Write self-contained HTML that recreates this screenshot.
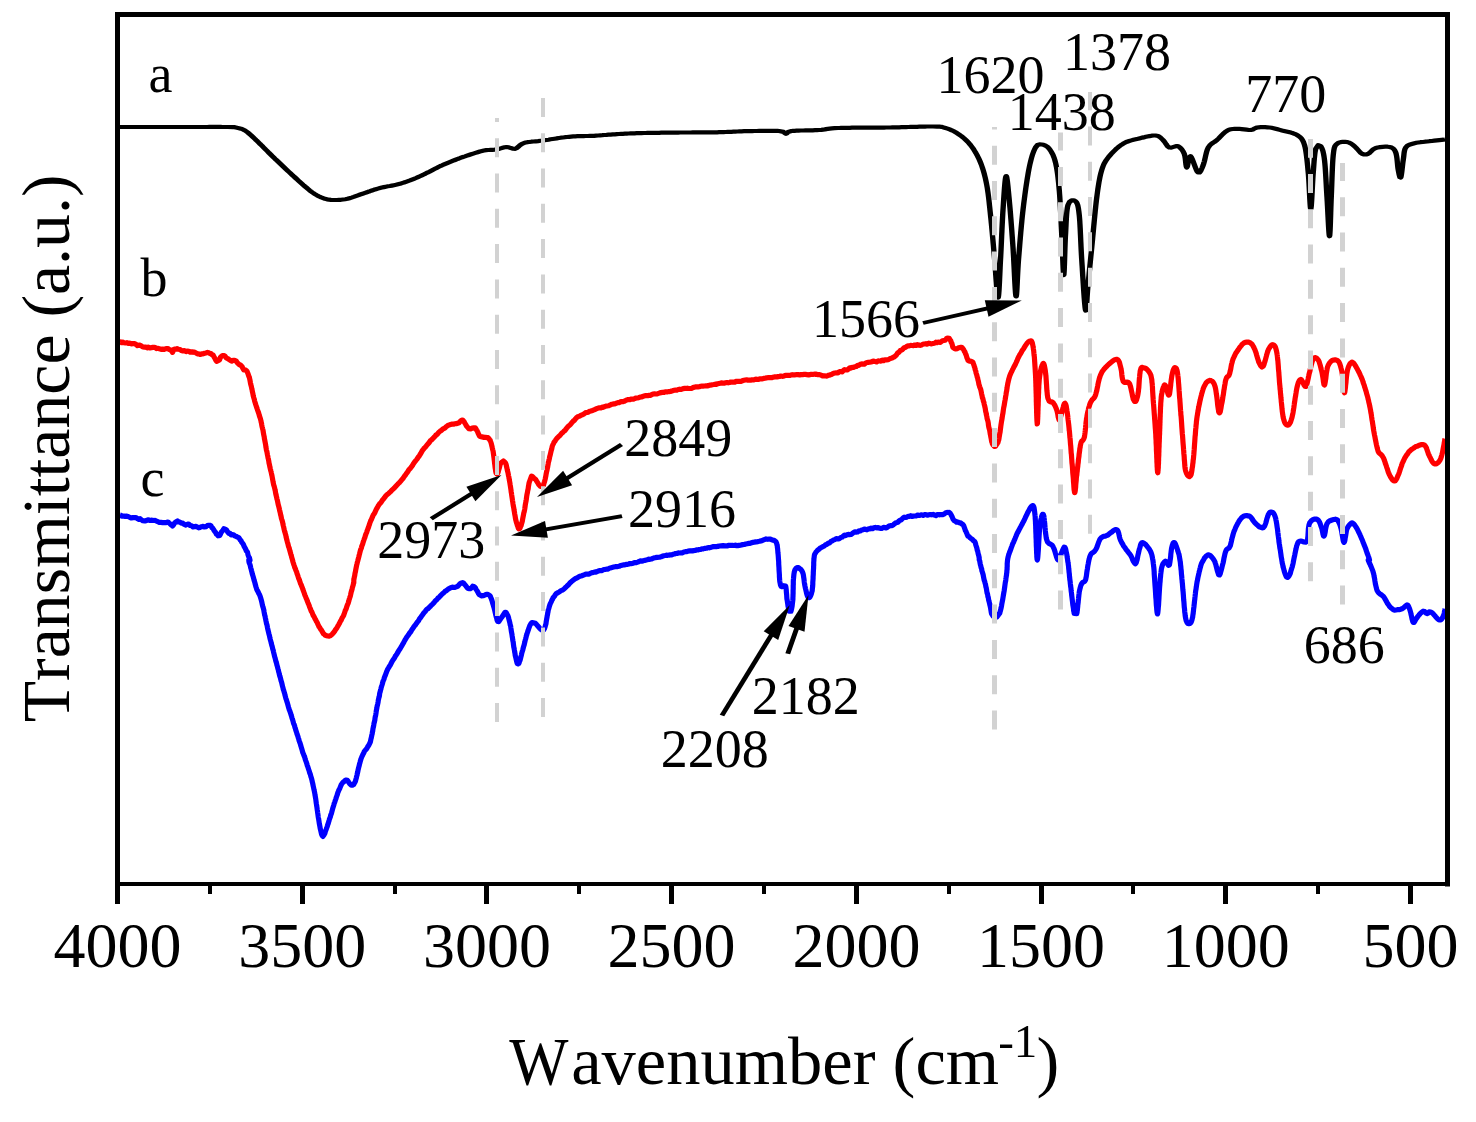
<!DOCTYPE html>
<html lang="en"><head><meta charset="utf-8"><title>FTIR spectra</title>
<style>html,body{margin:0;padding:0;background:#fff}body{width:1476px;height:1122px;overflow:hidden}svg{display:block}.nk{font-kerning:none;font-feature-settings:"kern" 0,"liga" 0;font-variant-ligatures:none}</style>
</head><body>
<svg width="1476" height="1122" viewBox="0 0 1476 1122">
<rect width="1476" height="1122" fill="#fff"/>
<g fill="none" stroke-linejoin="round" stroke-linecap="butt" stroke-width="5.2">
<g transform="scale(1.28,1)"><polyline stroke="#000" stroke-width="4.2" points="93.75,127.0 94.59,127.0 95.53,127.0 96.58,127.0 97.73,127.0 98.96,127.0 100.28,127.0 101.67,127.0 103.13,127.0 104.66,127.0 106.25,127.0 107.89,127.0 109.58,127.0 111.30,127.0 113.06,127.0 114.84,127.0 116.65,127.0 118.47,127.0 120.30,127.0 122.13,127.0 123.96,127.0 125.77,127.0 127.57,127.0 129.35,127.0 131.10,127.0 132.81,127.0 134.48,127.0 136.11,127.0 137.68,127.0 139.18,127.0 140.62,127.0 142.39,127.0 144.18,127.0 145.97,127.0 147.77,127.0 149.57,127.0 151.37,127.0 153.17,127.0 154.95,127.0 156.71,127.0 158.46,127.0 160.18,127.0 161.87,127.0 163.52,126.9 165.13,126.9 166.71,126.9 168.23,126.9 169.70,126.9 171.11,126.9 172.46,126.9 173.75,127.0 174.96,127.0 176.10,127.0 177.15,127.0 178.12,127.0 181.88,127.1 183.45,127.2 184.11,127.4 185.16,127.8 186.74,128.2 188.23,128.7 189.75,129.4 191.41,130.5 192.53,131.5 193.61,132.5 194.73,133.7 195.98,135.1 197.45,136.9 199.22,139.0 200.09,140.1 201.04,141.2 202.05,142.5 203.11,143.9 204.22,145.3 205.37,146.7 206.54,148.2 207.74,149.8 208.94,151.3 210.15,152.9 211.35,154.4 212.54,155.9 213.71,157.3 214.84,158.8 216.05,160.2 217.27,161.7 218.49,163.2 219.72,164.7 220.94,166.2 222.17,167.7 223.39,169.2 224.60,170.6 225.81,172.0 227.00,173.4 228.17,174.8 229.33,176.2 230.47,177.5 231.80,179.0 233.13,180.6 234.44,182.1 235.75,183.6 237.04,185.1 238.30,186.5 239.54,187.8 240.75,189.1 241.92,190.4 243.05,191.5 244.14,192.5 246.02,194.1 247.76,195.4 249.39,196.5 250.94,197.4 252.44,198.1 253.91,198.8 255.56,199.4 257.08,199.7 258.55,199.9 260.06,200.0 261.72,200.0 263.21,200.0 264.76,199.9 266.36,199.8 268.01,199.5 269.72,199.2 271.48,198.8 273.04,198.2 274.63,197.6 276.27,196.9 277.94,196.1 279.66,195.3 281.41,194.5 283.20,193.8 284.63,193.1 286.07,192.5 287.54,191.8 289.04,191.2 290.56,190.5 292.10,189.8 293.67,189.2 295.26,188.6 296.88,188.0 298.36,187.5 299.88,187.1 301.42,186.7 302.98,186.3 304.57,186.0 306.16,185.6 307.75,185.2 309.34,184.8 310.93,184.3 312.50,183.8 314.06,183.1 315.63,182.5 317.19,181.8 318.75,181.1 320.31,180.4 321.88,179.6 323.44,178.8 325.00,178.0 326.56,177.1 328.12,176.2 329.56,175.4 331.02,174.5 332.49,173.6 333.97,172.6 335.45,171.7 336.91,170.7 338.36,169.7 339.77,168.8 341.15,167.9 342.48,167.0 343.75,166.2 345.41,165.3 346.97,164.4 348.46,163.6 349.90,162.8 351.30,162.1 352.69,161.4 354.07,160.7 355.47,160.0 357.07,159.2 358.63,158.5 360.17,157.7 361.71,157.0 363.25,156.4 364.81,155.7 366.41,155.0 368.06,154.3 369.75,153.6 371.48,152.9 373.20,152.2 374.90,151.5 376.55,151.0 378.12,150.5 379.89,150.1 381.60,150.0 383.25,149.9 384.85,149.8 386.40,149.7 387.89,149.5 389.59,149.0 391.20,148.4 392.74,147.8 394.23,147.3 395.70,147.0 397.48,147.3 399.18,148.1 400.85,148.7 402.54,148.8 403.78,148.0 404.89,146.8 406.06,145.4 407.50,144.1 409.38,143.0 410.64,142.6 412.03,142.2 413.53,142.0 415.12,141.7 416.81,141.5 418.57,141.3 420.40,141.1 422.29,140.8 424.22,140.5 425.60,140.2 427.05,140.0 428.55,139.7 430.09,139.3 431.67,139.0 433.27,138.7 434.89,138.4 436.53,138.0 438.16,137.7 439.79,137.5 441.39,137.2 442.98,137.0 444.53,136.8 446.19,136.6 447.83,136.4 449.47,136.3 451.10,136.2 452.72,136.2 454.35,136.1 455.96,136.1 457.58,136.0 459.20,136.0 460.82,135.9 462.44,135.9 464.06,135.8 465.69,135.6 467.32,135.5 468.95,135.3 470.57,135.2 472.20,135.0 473.83,134.9 475.46,134.7 477.08,134.6 478.71,134.4 480.34,134.3 481.97,134.1 483.59,134.0 485.18,133.9 486.71,133.8 488.20,133.7 489.67,133.6 491.14,133.5 492.63,133.4 494.16,133.3 495.75,133.3 497.42,133.2 499.19,133.1 501.09,133.1 503.12,133.0 504.43,133.0 505.79,132.9 507.21,132.9 508.69,132.9 510.21,132.8 511.76,132.8 513.35,132.8 514.97,132.8 516.61,132.7 518.26,132.7 519.93,132.7 521.59,132.7 523.26,132.6 524.92,132.6 526.56,132.6 528.19,132.6 529.79,132.6 531.36,132.5 532.89,132.5 534.38,132.5 536.10,132.5 537.82,132.5 539.53,132.5 541.24,132.4 542.94,132.4 544.63,132.4 546.30,132.4 547.96,132.4 549.60,132.4 551.21,132.4 552.80,132.4 554.37,132.4 555.91,132.4 557.41,132.3 558.88,132.3 560.32,132.3 561.72,132.2 563.60,132.2 565.34,132.1 566.97,132.0 568.52,131.9 570.02,131.8 571.48,131.8 572.95,131.7 574.45,131.6 576.00,131.5 577.63,131.4 579.37,131.3 581.25,131.2 582.69,131.2 584.24,131.2 585.89,131.1 587.61,131.1 589.39,131.0 591.21,131.0 593.04,130.9 594.88,130.9 596.71,130.9 598.50,130.9 600.24,130.8 601.92,130.8 603.50,130.8 604.98,130.9 606.33,130.9 607.54,130.9 608.59,131.0 612.08,131.9 613.14,133.1 614.06,133.8 614.95,133.2 615.70,132.0 618.36,131.0 619.47,130.9 620.78,130.8 622.28,130.7 623.92,130.6 625.67,130.5 627.51,130.5 629.39,130.4 631.28,130.4 633.16,130.3 634.99,130.3 636.73,130.2 638.36,130.1 639.84,130.0 641.65,129.8 643.12,129.6 644.39,129.4 645.57,129.1 646.79,128.8 648.19,128.6 649.89,128.4 652.01,128.2 654.69,128.0 655.81,128.0 657.00,127.9 658.27,127.9 659.61,127.8 661.01,127.8 662.47,127.8 663.98,127.8 665.53,127.7 667.13,127.7 668.76,127.7 670.42,127.7 672.10,127.7 673.80,127.7 675.52,127.7 677.24,127.7 678.97,127.7 680.70,127.6 682.41,127.6 684.12,127.6 685.80,127.6 687.46,127.6 689.09,127.6 690.69,127.6 692.24,127.5 693.75,127.5 695.45,127.5 697.19,127.4 698.95,127.4 700.72,127.3 702.51,127.3 704.31,127.2 706.10,127.1 707.89,127.1 709.67,127.0 711.42,126.9 713.16,126.9 714.86,126.8 716.53,126.8 718.16,126.7 719.73,126.7 721.26,126.6 722.72,126.6 724.11,126.5 725.43,126.5 726.68,126.5 727.84,126.5 728.91,126.5 732.00,126.6 734.04,126.7 735.38,126.8 736.36,127.1 737.34,127.5 738.67,128.0 740.30,128.6 741.93,129.4 743.55,130.3 745.18,131.3 746.81,132.4 748.44,133.8 749.67,134.9 750.92,136.0 752.19,137.3 753.44,138.6 754.68,140.1 755.90,141.6 757.08,143.3 758.20,145.0 759.08,146.5 759.94,148.0 760.78,149.6 761.61,151.3 762.41,153.0 763.20,154.8 763.95,156.7 764.67,158.6 765.36,160.5 766.02,162.5 766.58,164.3 767.11,166.2 767.61,168.1 768.09,170.0 768.54,172.0 768.98,174.0 769.39,176.1 769.79,178.2 770.17,180.4 770.54,182.7 770.90,185.0 771.15,186.8 771.39,188.5 771.61,190.4 771.82,192.2 772.02,194.1 772.21,196.0 772.40,197.9 772.57,199.9 772.75,201.9 772.92,204.0 773.10,206.1 773.27,208.2 773.45,210.4 773.64,212.7 773.83,215.0 773.97,216.8 774.12,218.6 774.27,220.4 774.41,222.3 774.56,224.2 774.71,226.2 774.85,228.2 775.00,230.2 775.15,232.2 775.29,234.2 775.44,236.3 775.59,238.3 775.73,240.4 775.88,242.5 776.03,244.6 776.17,246.7 776.32,248.8 776.46,250.9 776.61,252.9 776.76,255.0 776.90,257.1 777.04,259.3 777.18,261.6 777.33,264.1 777.48,266.7 777.62,269.3 777.77,271.9 777.92,274.6 778.06,277.2 778.21,279.8 778.36,282.3 778.50,284.8 778.64,287.0 778.78,289.2 778.92,291.1 779.06,292.9 779.19,294.4 779.32,295.6 779.45,296.6 779.57,297.2 779.69,297.5 779.82,297.4 779.95,296.9 780.07,296.0 780.19,294.8 780.30,293.2 780.41,291.4 780.52,289.3 780.62,287.0 780.73,284.5 780.83,281.9 780.93,279.2 781.03,276.4 781.13,273.6 781.23,270.7 781.33,267.9 781.43,265.2 781.53,262.5 781.64,260.0 781.72,258.2 781.80,256.4 781.87,254.5 781.95,252.5 782.03,250.5 782.10,248.5 782.18,246.4 782.25,244.4 782.33,242.2 782.40,240.1 782.48,238.0 782.55,235.8 782.63,233.7 782.71,231.6 782.78,229.4 782.86,227.3 782.94,225.2 783.02,223.2 783.10,221.1 783.18,219.2 783.26,217.2 783.34,215.3 783.42,213.5 783.51,211.7 783.59,210.0 783.73,207.3 783.87,204.6 784.01,201.8 784.15,199.1 784.29,196.3 784.44,193.6 784.58,191.0 784.73,188.5 784.88,186.2 785.03,184.0 785.18,182.0 785.33,180.3 785.48,178.8 785.63,177.6 785.78,176.8 785.94,176.2 786.16,176.2 786.38,176.7 786.61,177.9 786.83,179.7 787.06,181.8 787.29,184.4 787.52,187.2 787.75,190.3 787.99,193.5 788.23,196.7 788.48,200.0 788.60,201.6 788.72,203.3 788.84,205.0 788.97,206.8 789.10,208.7 789.23,210.7 789.36,212.7 789.49,214.7 789.62,216.8 789.75,218.9 789.89,221.1 790.02,223.3 790.15,225.5 790.28,227.7 790.42,229.9 790.55,232.2 790.67,234.4 790.80,236.7 790.93,238.9 791.05,241.1 791.17,243.2 791.29,245.4 791.41,247.5 791.52,249.6 791.62,251.8 791.73,254.1 791.84,256.5 791.94,259.0 792.04,261.6 792.14,264.2 792.25,266.8 792.35,269.4 792.44,272.0 792.54,274.6 792.64,277.1 792.74,279.6 792.83,281.9 792.93,284.1 793.02,286.2 793.11,288.2 793.21,290.0 793.30,291.6 793.39,293.0 793.48,294.2 793.57,295.2 793.66,295.8 793.75,296.2 793.87,296.4 793.98,296.0 794.08,295.3 794.18,294.2 794.28,292.7 794.37,291.0 794.47,289.0 794.56,286.7 794.65,284.3 794.75,281.7 794.85,279.0 794.95,276.2 795.06,273.4 795.17,270.6 795.29,267.8 795.42,265.1 795.56,262.5 795.70,260.0 795.81,258.2 795.93,256.4 796.04,254.6 796.16,252.7 796.28,250.8 796.41,248.8 796.54,246.8 796.66,244.8 796.80,242.7 796.93,240.6 797.07,238.5 797.21,236.4 797.35,234.3 797.49,232.2 797.64,230.1 797.79,228.0 797.94,225.9 798.09,223.8 798.25,221.8 798.40,219.7 798.56,217.7 798.72,215.7 798.89,213.8 799.05,211.9 799.22,210.0 799.42,207.8 799.63,205.6 799.84,203.3 800.06,201.1 800.29,198.9 800.51,196.7 800.75,194.4 800.98,192.3 801.22,190.1 801.45,187.9 801.70,185.8 801.94,183.7 802.18,181.7 802.42,179.7 802.67,177.8 802.91,175.9 803.15,174.1 803.39,172.3 803.63,170.6 803.87,169.0 804.10,167.5 804.59,164.5 805.08,161.8 805.57,159.3 806.05,157.1 806.54,155.0 807.03,153.2 807.52,151.5 808.01,150.1 808.50,148.7 808.98,147.5 810.58,145.0 812.17,144.3 813.87,144.5 815.29,144.8 816.80,145.6 818.31,146.8 819.73,148.8 820.49,150.1 821.25,151.6 821.99,153.3 822.70,155.1 823.39,157.3 824.02,159.7 824.61,162.5 824.90,164.1 825.18,165.8 825.44,167.5 825.69,169.4 825.92,171.3 826.15,173.3 826.36,175.3 826.57,177.5 826.77,179.8 826.97,182.2 827.16,184.7 827.35,187.3 827.54,190.0 827.65,191.7 827.75,193.5 827.86,195.3 827.96,197.2 828.06,199.1 828.15,201.1 828.25,203.2 828.34,205.3 828.43,207.4 828.51,209.6 828.60,211.7 828.69,213.9 828.77,216.1 828.85,218.3 828.93,220.4 829.01,222.6 829.09,224.8 829.17,226.9 829.25,229.0 829.33,231.0 829.41,233.0 829.49,235.0 829.58,237.2 829.67,239.6 829.75,242.0 829.83,244.6 829.91,247.2 830.00,249.9 830.08,252.6 830.15,255.2 830.23,257.8 830.31,260.3 830.39,262.7 830.46,265.0 830.54,267.1 830.61,269.0 830.69,270.7 830.76,272.2 830.83,273.4 830.91,274.3 830.98,274.8 831.05,275.0 831.13,274.8 831.20,274.2 831.26,273.2 831.33,272.0 831.40,270.4 831.46,268.6 831.52,266.5 831.59,264.3 831.65,261.9 831.71,259.4 831.78,256.8 831.84,254.1 831.91,251.4 831.97,248.8 832.04,246.2 832.11,243.6 832.19,241.2 832.26,239.0 832.34,236.9 832.42,235.0 832.53,232.7 832.62,230.3 832.71,227.9 832.80,225.6 832.88,223.3 832.97,221.0 833.07,218.8 833.17,216.7 833.28,214.6 833.41,212.7 833.56,210.9 833.73,209.2 833.91,207.6 834.13,206.2 834.38,205.0 835.63,201.8 837.24,200.4 838.88,200.3 840.23,201.2 840.82,202.0 841.31,203.0 841.75,204.3 842.13,206.0 842.48,208.3 842.82,211.2 843.16,215.0 843.27,216.4 843.37,217.9 843.47,219.5 843.57,221.2 843.65,223.0 843.74,224.9 843.82,226.8 843.91,228.9 843.98,230.9 844.06,233.1 844.14,235.2 844.22,237.4 844.30,239.7 844.38,242.0 844.46,244.2 844.54,246.5 844.63,248.8 844.72,251.1 844.81,253.4 844.91,255.6 845.01,257.8 845.12,260.0 845.22,262.0 845.32,264.1 845.43,266.2 845.54,268.5 845.66,270.9 845.77,273.3 845.89,275.8 846.02,278.2 846.14,280.7 846.27,283.2 846.39,285.7 846.52,288.2 846.65,290.6 846.77,292.9 846.90,295.2 847.02,297.3 847.15,299.4 847.27,301.3 847.39,303.1 847.51,304.7 847.62,306.2 847.73,307.5 847.84,308.5 847.95,309.4 848.05,310.0 848.24,310.6 848.42,310.3 848.58,309.3 848.73,307.7 848.88,305.5 849.02,303.0 849.17,300.1 849.31,297.0 849.47,293.9 849.63,290.8 849.81,287.8 850.00,285.0 850.14,283.2 850.28,281.5 850.42,279.6 850.57,277.7 850.72,275.8 850.87,273.9 851.02,271.9 851.18,269.9 851.34,267.8 851.51,265.7 851.67,263.6 851.84,261.4 852.02,259.2 852.19,256.9 852.37,254.6 852.56,252.3 852.74,249.9 852.93,247.5 853.07,245.7 853.21,243.9 853.35,241.9 853.50,240.0 853.65,237.9 853.80,235.9 853.95,233.8 854.11,231.6 854.26,229.5 854.42,227.3 854.58,225.1 854.74,223.0 854.90,220.8 855.06,218.6 855.23,216.5 855.39,214.4 855.55,212.3 855.71,210.2 855.88,208.2 856.04,206.3 856.20,204.4 856.36,202.5 856.52,200.8 856.68,199.1 856.84,197.5 857.13,194.6 857.42,191.9 857.70,189.3 857.97,186.9 858.25,184.7 858.53,182.5 858.81,180.5 859.10,178.6 859.40,176.7 859.71,174.9 860.03,173.2 860.38,171.6 860.74,170.0 861.43,167.3 862.13,165.0 862.86,163.1 863.65,161.3 864.51,159.7 865.49,158.0 866.60,156.2 867.58,154.8 868.64,153.2 869.78,151.7 870.99,150.2 872.23,148.7 873.51,147.3 874.80,146.0 876.08,144.8 877.34,143.8 878.95,142.6 880.56,141.7 882.20,141.0 883.85,140.4 885.54,139.8 887.28,139.3 889.06,138.8 890.73,138.2 892.53,137.6 894.39,137.1 896.26,136.5 898.09,136.1 899.82,135.7 901.39,135.5 902.73,135.5 904.77,136.0 906.21,137.1 907.38,138.5 908.59,140.0 909.84,141.9 910.97,144.1 912.14,146.2 913.48,147.5 915.09,147.6 916.89,146.9 918.70,146.2 920.31,146.2 921.74,147.4 923.06,149.1 924.23,151.2 925.20,153.8 925.68,156.0 926.03,158.8 926.29,161.8 926.53,164.5 926.80,166.6 927.15,167.5 927.63,166.4 928.11,163.5 928.65,160.0 929.29,157.1 930.08,156.2 930.68,157.1 931.38,158.9 932.14,161.4 932.93,164.1 933.74,166.9 934.53,169.5 935.27,171.4 935.94,172.5 937.09,172.5 938.11,170.9 939.07,168.1 940.04,165.0 940.47,163.4 940.86,161.6 941.25,159.5 941.63,157.4 942.02,155.1 942.43,153.0 942.88,150.9 943.38,149.1 943.95,147.5 945.11,145.4 946.42,143.9 947.84,142.6 949.30,141.5 950.78,140.0 952.03,138.5 953.31,136.8 954.63,135.0 955.95,133.4 957.28,131.9 958.59,130.8 960.11,129.8 961.58,129.3 963.07,129.0 964.66,128.8 966.41,128.8 968.09,128.8 969.99,129.1 971.96,129.4 973.89,129.7 975.66,130.0 977.15,130.0 979.03,129.4 980.26,128.3 982.03,127.5 983.38,127.3 984.92,127.2 986.61,127.2 988.36,127.2 990.11,127.3 991.80,127.5 993.40,127.8 994.98,128.2 996.56,128.7 998.16,129.3 999.82,129.9 1001.56,130.5 1003.19,131.0 1004.94,131.5 1006.76,132.0 1008.57,132.6 1010.30,133.3 1011.90,134.1 1013.28,135.0 1014.63,136.1 1015.78,137.3 1016.76,138.6 1017.62,140.2 1018.40,142.3 1019.14,145.0 1019.46,146.5 1019.76,148.2 1020.04,150.0 1020.29,151.9 1020.53,153.9 1020.74,156.0 1020.95,158.2 1021.15,160.5 1021.34,162.8 1021.52,165.2 1021.70,167.6 1021.88,170.1 1022.07,172.5 1022.20,174.4 1022.33,176.5 1022.45,178.9 1022.57,181.4 1022.68,184.0 1022.79,186.6 1022.90,189.3 1023.01,192.0 1023.11,194.6 1023.21,197.1 1023.31,199.5 1023.41,201.7 1023.51,203.7 1023.61,205.4 1023.71,206.8 1023.81,207.9 1023.92,208.5 1024.02,208.8 1024.13,208.5 1024.24,207.8 1024.35,206.8 1024.46,205.3 1024.57,203.6 1024.67,201.6 1024.78,199.3 1024.89,196.9 1025.00,194.4 1025.11,191.7 1025.22,189.0 1025.33,186.3 1025.43,183.7 1025.54,181.1 1025.65,178.7 1025.76,176.4 1025.87,174.3 1025.98,172.5 1026.15,169.8 1026.31,167.1 1026.46,164.5 1026.60,162.0 1026.75,159.7 1026.91,157.4 1027.08,155.3 1027.26,153.4 1027.46,151.6 1027.68,150.1 1027.93,148.8 1029.82,145.2 1031.84,146.2 1032.31,147.2 1032.77,148.3 1033.21,149.8 1033.63,151.6 1034.03,153.9 1034.41,156.6 1034.77,160.0 1034.90,161.5 1035.03,163.1 1035.15,164.9 1035.27,166.7 1035.38,168.7 1035.49,170.7 1035.60,172.8 1035.70,175.0 1035.80,177.2 1035.90,179.4 1036.00,181.7 1036.10,184.0 1036.20,186.3 1036.30,188.6 1036.40,190.9 1036.51,193.1 1036.61,195.4 1036.72,197.5 1036.82,199.6 1036.93,201.9 1037.03,204.4 1037.14,206.9 1037.25,209.6 1037.36,212.3 1037.46,215.0 1037.57,217.7 1037.68,220.3 1037.79,222.9 1037.89,225.3 1038.00,227.6 1038.10,229.7 1038.20,231.6 1038.30,233.2 1038.40,234.5 1038.49,235.4 1038.58,236.0 1038.67,236.2 1038.76,236.0 1038.84,235.5 1038.92,234.5 1038.99,233.2 1039.07,231.7 1039.14,229.9 1039.21,227.8 1039.28,225.6 1039.35,223.2 1039.41,220.7 1039.48,218.1 1039.55,215.4 1039.61,212.7 1039.68,209.9 1039.75,207.3 1039.82,204.6 1039.89,202.1 1039.96,199.7 1040.04,197.5 1040.11,195.5 1040.17,193.5 1040.24,191.4 1040.30,189.2 1040.37,187.0 1040.43,184.7 1040.49,182.5 1040.56,180.2 1040.62,177.9 1040.69,175.7 1040.76,173.4 1040.83,171.2 1040.90,169.1 1040.97,167.0 1041.05,165.0 1041.13,163.0 1041.22,161.2 1041.30,159.5 1041.40,157.8 1041.50,156.4 1041.60,155.0 1042.02,150.6 1042.44,147.8 1042.94,146.1 1043.61,144.9 1044.53,143.8 1045.81,142.7 1047.40,142.1 1049.12,141.8 1050.83,141.8 1052.34,142.0 1053.95,142.6 1055.40,143.5 1056.78,144.8 1058.20,146.2 1059.39,147.7 1060.59,149.4 1061.79,151.1 1062.95,152.7 1064.06,153.8 1065.73,154.5 1067.28,154.5 1068.95,153.8 1070.23,152.6 1071.51,150.9 1072.97,149.2 1074.80,148.0 1076.38,147.5 1078.24,147.1 1080.24,146.8 1082.22,146.7 1084.04,146.7 1085.55,147.0 1087.25,147.6 1088.54,148.6 1089.55,150.1 1090.43,152.5 1090.81,154.2 1091.12,156.3 1091.38,158.6 1091.59,161.1 1091.78,163.6 1091.96,166.0 1092.16,168.2 1092.38,170.0 1093.03,174.2 1093.68,177.2 1094.34,177.5 1094.58,176.5 1094.82,174.8 1095.07,172.5 1095.31,170.0 1095.56,167.3 1095.80,164.6 1096.04,162.1 1096.29,160.0 1096.56,157.5 1096.76,155.2 1096.96,152.9 1097.23,150.9 1097.63,149.0 1098.24,147.5 1099.49,145.8 1101.05,144.7 1102.91,144.0 1105.08,143.2 1106.49,142.8 1108.06,142.5 1109.74,142.2 1111.49,142.0 1113.28,141.7 1115.06,141.5 1116.80,141.2 1118.61,141.0 1120.58,140.7 1122.59,140.4 1124.54,140.1 1126.32,139.9 1127.81,139.7 1128.91,139.5"/></g>
<polyline stroke="#f00" points="120.0,342.5 120.8,341.9 121.7,342.6 122.8,342.2 124.0,342.8 125.3,343.0 126.8,342.7 128.3,343.4 129.8,343.2 131.4,343.8 132.9,343.7 134.5,343.7 136.0,344.4 137.5,345.6 138.8,345.2 140.1,345.2 141.5,346.0 142.8,347.0 144.3,347.1 145.7,347.0 147.1,347.9 148.5,347.1 149.9,348.0 151.3,347.7 152.6,347.4 153.9,347.3 155.2,347.6 156.4,348.6 157.5,348.3 159.3,348.8 161.0,349.3 162.6,349.1 164.1,349.4 165.5,348.8 166.9,348.5 168.0,348.6 169.1,349.5 170.0,349.7 171.9,351.1 172.5,352.4 173.0,351.3 173.4,349.4 175.0,349.0 175.9,349.2 177.1,348.7 178.4,349.2 179.9,349.5 181.4,350.4 183.0,350.9 184.5,350.6 186.1,351.7 187.5,351.1 188.9,351.3 190.3,352.2 191.8,351.8 193.2,352.3 194.6,352.0 196.0,353.0 197.4,353.8 198.7,353.9 200.0,354.5 201.6,353.8 203.1,353.8 204.6,353.3 206.0,352.9 207.4,352.4 208.7,352.8 210.0,353.6 211.1,353.7 212.1,354.8 213.1,355.1 214.1,356.9 215.0,358.5 215.9,360.3 216.7,361.3 217.5,361.0 218.6,360.5 219.6,359.7 220.4,357.4 221.4,356.4 222.5,355.5 223.6,355.5 224.9,355.9 226.2,357.9 227.5,358.5 228.8,359.3 230.0,360.1 231.6,361.2 233.1,360.3 234.6,360.3 236.2,361.1 237.1,362.4 238.1,363.5 239.1,364.6 240.1,364.8 241.1,365.6 242.0,366.5 242.9,368.3 243.8,369.8 244.7,369.8 245.6,370.0 246.3,370.6 247.1,371.5 247.9,373.4 248.8,376.1 249.0,376.7 249.3,377.1 249.6,378.5 249.9,379.8 250.2,381.5 250.5,383.2 250.8,384.6 251.2,385.9 251.5,387.3 251.8,388.8 252.1,389.9 252.4,391.7 252.8,393.3 253.1,394.9 253.4,396.4 253.7,397.5 254.1,398.7 254.4,399.8 254.7,401.3 255.0,402.2 255.4,403.4 255.8,404.7 256.2,405.9 256.6,407.2 257.0,408.2 257.3,409.2 257.7,410.4 258.1,411.5 258.5,412.8 258.9,413.8 259.3,415.5 259.7,416.8 260.1,417.8 260.5,419.1 260.9,420.6 261.2,422.2 261.5,423.2 261.7,424.7 262.0,426.2 262.2,427.1 262.5,428.2 262.7,429.1 263.0,430.2 263.2,431.5 263.4,432.8 263.7,434.5 263.9,435.6 264.2,436.7 264.4,438.6 264.7,439.9 264.9,441.0 265.2,442.5 265.4,443.6 265.7,445.2 265.9,447.0 266.2,448.5 266.4,449.9 266.7,450.9 267.0,452.2 267.2,453.4 267.5,455.0 267.8,456.3 268.0,457.7 268.3,458.7 268.5,459.8 268.8,461.3 269.0,462.9 269.3,464.2 269.6,465.4 269.8,466.7 270.1,467.9 270.3,468.8 270.6,470.0 270.9,471.2 271.2,472.1 271.4,473.2 271.7,474.6 272.0,475.9 272.3,477.6 272.6,479.3 272.8,480.4 273.1,482.1 273.4,483.6 273.7,485.0 274.1,486.0 274.4,487.1 274.7,488.3 275.0,489.7 275.3,490.8 275.5,492.3 275.8,493.9 276.1,495.3 276.4,496.4 276.7,497.7 277.0,499.1 277.3,500.0 277.6,501.5 277.9,503.1 278.2,504.6 278.6,505.9 278.9,507.1 279.2,508.2 279.5,509.8 279.8,511.0 280.2,512.6 280.5,514.2 280.8,515.3 281.1,516.5 281.4,518.2 281.8,519.5 282.1,520.4 282.4,521.5 282.7,522.7 283.0,524.4 283.3,525.8 283.6,526.7 283.9,528.2 284.2,529.6 284.5,530.7 284.7,531.5 285.0,532.6 285.4,533.9 285.8,535.3 286.2,537.4 286.6,539.0 287.0,540.5 287.4,542.2 287.8,543.4 288.2,545.0 288.5,546.4 288.9,547.3 289.2,548.4 289.6,549.6 289.9,550.8 290.3,552.2 290.6,553.3 290.9,554.5 291.3,555.4 291.6,557.0 291.9,557.9 292.2,558.9 292.5,560.0 293.0,562.0 293.4,563.3 293.9,564.9 294.3,565.9 294.6,567.0 295.0,568.1 295.4,568.7 295.7,569.9 296.1,570.8 296.6,571.8 297.0,573.5 297.5,574.7 297.9,575.9 298.3,577.3 298.7,578.5 299.2,579.5 299.6,580.8 300.1,582.1 300.5,583.6 301.0,584.4 301.5,585.8 302.0,587.0 302.5,588.2 303.0,589.8 303.5,591.1 304.0,592.5 304.5,593.9 305.0,595.4 305.5,596.4 306.0,597.7 306.5,598.9 307.0,600.1 307.5,601.6 308.0,602.8 308.6,604.1 309.1,605.4 309.6,607.0 310.2,608.3 310.7,609.7 311.2,611.1 311.8,611.9 312.3,613.1 312.8,614.5 313.3,615.7 313.8,616.2 314.4,617.4 315.1,618.9 315.8,620.0 316.4,621.3 317.1,622.4 317.7,623.9 318.4,625.3 319.0,626.7 319.6,627.3 320.2,628.4 320.7,629.4 321.2,629.8 322.4,631.9 323.4,633.6 324.3,634.3 325.2,635.3 326.2,635.6 327.7,635.9 329.2,636.1 330.8,635.5 332.5,633.8 333.2,633.0 333.9,632.2 334.7,631.1 335.4,629.9 336.2,628.8 336.9,627.9 337.7,626.3 338.5,625.1 339.2,623.8 340.0,622.1 340.5,621.1 341.1,620.3 341.6,619.2 342.2,617.8 342.7,617.1 343.3,616.0 343.8,615.0 344.4,613.2 344.9,611.7 345.4,610.1 346.0,609.2 346.5,607.6 347.0,606.0 347.5,604.7 347.9,603.9 348.3,602.8 348.8,601.1 349.2,599.4 349.6,598.3 350.1,596.8 350.5,595.3 350.9,593.4 351.3,591.6 351.7,590.5 352.1,589.1 352.4,587.4 352.7,586.6 353.0,585.5 353.3,584.6 353.5,583.2 353.8,582.7 353.8,579.8 353.9,579.4 354.1,578.4 354.3,577.3 354.5,576.4 354.7,575.6 354.9,574.1 355.2,572.6 355.5,571.4 355.7,570.0 356.0,568.4 356.3,566.9 356.6,565.4 357.0,563.9 357.3,562.5 357.7,561.1 358.0,559.9 358.4,558.3 358.8,556.8 359.2,555.1 359.6,553.7 360.0,552.0 360.3,550.9 360.7,549.5 361.1,548.7 361.5,547.6 361.8,546.1 362.3,544.9 362.7,544.0 363.1,542.3 363.5,541.3 364.0,539.8 364.4,538.5 364.9,537.4 365.3,535.8 365.8,534.5 366.2,533.3 366.7,532.3 367.2,530.6 367.6,529.6 368.1,528.3 368.6,527.0 369.0,525.6 369.5,524.3 369.9,522.9 370.4,521.6 370.8,520.5 371.2,519.9 371.9,518.2 372.6,516.7 373.2,515.1 373.8,514.3 374.4,513.3 375.1,512.1 375.7,510.6 376.3,509.3 377.0,508.1 377.6,507.1 378.3,505.8 378.9,504.9 379.6,503.8 380.3,503.2 381.0,502.5 381.7,501.3 382.5,500.0 383.3,499.3 384.2,498.0 385.1,496.9 386.0,495.6 386.9,494.8 387.9,494.0 388.8,493.3 389.8,492.2 390.7,491.5 391.7,490.3 392.7,489.5 393.7,488.5 394.6,487.7 395.6,486.5 396.6,485.4 397.5,484.5 398.3,483.6 399.1,482.9 399.9,482.0 400.7,481.2 401.5,480.2 402.3,479.2 403.1,478.3 403.9,477.0 404.8,475.7 405.6,474.9 406.4,473.4 407.2,472.5 407.9,471.5 408.7,470.0 409.5,469.2 410.3,468.4 411.0,467.3 411.8,466.3 412.5,465.4 413.4,463.8 414.2,462.6 415.0,461.5 415.9,460.5 416.7,459.5 417.5,458.4 418.3,457.1 419.1,456.2 419.8,455.0 420.6,453.8 421.4,452.4 422.1,451.0 422.8,449.9 423.6,449.0 424.3,447.9 425.0,447.5 426.0,446.3 426.9,445.2 427.8,444.1 428.7,443.2 429.5,442.1 430.3,440.7 431.2,440.1 432.1,439.4 433.0,438.3 434.0,437.3 435.0,436.4 435.9,435.1 437.0,434.5 438.0,433.3 439.1,432.1 440.2,431.1 441.4,430.4 442.5,429.3 443.7,428.6 444.8,428.1 445.8,427.1 446.9,426.2 447.8,425.5 448.8,425.1 450.5,424.5 452.2,424.1 453.7,424.1 455.0,423.8 456.3,423.6 457.5,423.4 459.0,422.8 460.1,421.4 461.2,420.5 462.5,420.1 463.2,420.5 464.0,421.5 464.8,423.0 465.7,424.5 466.5,426.0 467.4,427.0 468.2,428.0 469.0,428.7 470.6,428.9 472.2,428.1 473.8,427.9 475.2,427.8 476.0,429.0 476.7,430.3 477.3,431.1 477.9,432.6 478.6,434.2 479.3,435.7 480.2,436.5 481.3,436.8 482.6,436.9 484.0,437.5 485.4,437.3 486.8,437.6 488.0,437.7 489.0,438.6 489.6,439.8 490.2,440.3 490.6,441.6 491.0,442.6 491.4,444.0 491.7,445.3 492.0,446.5 492.4,448.4 492.8,450.1 493.0,450.8 493.2,451.8 493.4,453.3 493.6,454.9 493.8,456.4 494.0,457.8 494.2,459.6 494.4,461.2 494.6,463.3 494.8,464.5 495.0,466.4 495.2,468.1 495.4,469.1 495.6,470.7 495.8,471.9 496.1,473.0 496.3,473.3 496.5,473.7 497.0,474.0 497.5,473.7 498.1,472.3 498.6,470.4 499.2,468.3 499.7,466.3 500.2,464.4 500.8,463.2 502.1,462.0 503.4,461.0 504.8,462.2 505.1,462.5 505.4,462.8 505.7,463.4 505.9,463.9 506.2,464.8 506.5,466.4 506.9,468.0 507.3,470.0 507.9,472.3 508.5,475.5 508.7,476.4 508.9,477.1 509.0,478.2 509.2,478.8 509.4,480.3 509.6,481.4 509.9,483.0 510.1,484.4 510.3,485.6 510.5,486.8 510.8,488.9 511.0,490.2 511.2,491.9 511.5,493.5 511.7,495.1 512.0,497.1 512.3,499.2 512.5,500.6 512.8,502.4 513.0,503.9 513.3,505.7 513.6,507.3 513.9,508.8 514.1,510.3 514.4,511.9 514.7,513.9 515.0,515.4 515.2,516.7 515.5,518.5 515.8,520.1 516.1,521.1 516.3,522.0 516.6,522.9 516.9,523.8 517.2,524.9 517.4,525.6 517.7,526.3 518.0,527.0 518.2,527.8 518.5,528.5 518.7,528.9 519.0,528.8 519.3,528.7 519.6,528.6 519.9,528.1 520.2,527.6 520.5,526.7 520.8,526.0 521.1,525.6 521.4,524.3 521.7,523.3 522.0,522.2 522.3,521.2 522.6,519.4 522.9,517.8 523.2,516.2 523.5,514.7 523.8,513.1 524.2,511.8 524.5,510.3 524.8,508.6 525.1,506.3 525.4,504.2 525.7,502.8 526.0,501.3 526.3,499.4 526.5,497.7 526.8,495.5 527.1,493.9 527.4,492.7 527.6,491.3 527.9,489.9 528.2,488.6 528.4,486.8 528.7,485.1 528.9,483.8 529.1,482.9 529.3,482.1 529.5,481.6 529.8,480.8 531.5,476.2 532.5,476.7 534.0,478.2 534.8,478.8 535.7,479.5 536.7,481.3 537.7,482.7 538.8,484.6 539.9,485.9 540.9,486.5 541.9,486.5 542.8,485.9 543.1,485.6 543.5,485.1 543.8,483.9 544.2,482.6 544.5,481.7 544.8,480.6 545.2,479.1 545.5,477.5 545.8,476.2 546.1,474.3 546.4,472.8 546.7,471.3 547.0,470.1 547.3,468.5 547.6,467.2 547.9,465.4 548.2,463.7 548.4,462.2 548.7,461.4 549.0,460.3 549.4,458.5 549.7,456.6 550.1,455.4 550.4,454.2 550.7,452.8 551.0,451.4 551.3,450.3 551.6,449.4 551.9,447.9 552.2,446.4 552.6,445.4 553.0,444.4 553.5,443.5 554.0,442.3 554.7,441.4 555.4,440.4 556.2,439.2 557.1,438.0 557.9,437.4 558.8,436.3 559.8,435.6 560.8,434.4 561.8,433.2 562.9,432.4 564.0,431.1 564.8,430.7 565.6,429.6 566.5,428.4 567.4,427.3 568.3,426.3 569.3,425.5 570.2,424.8 571.2,423.4 572.2,422.3 573.2,421.1 574.1,420.6 575.1,419.3 576.1,418.2 577.1,417.2 578.1,416.6 579.0,416.3 580.2,415.8 581.4,415.1 582.5,414.7 583.6,414.2 584.7,413.3 585.9,412.5 587.0,412.5 588.3,412.2 589.5,411.3 590.9,411.0 592.4,410.5 594.0,409.9 595.0,409.5 596.1,408.9 597.2,408.4 598.4,408.1 599.5,407.8 600.8,407.9 602.0,407.2 603.3,407.3 604.6,406.6 605.9,406.1 607.2,406.0 608.5,405.8 609.9,405.2 611.2,404.4 612.5,404.2 613.8,403.8 615.2,403.8 616.5,403.1 617.7,402.7 619.0,402.7 620.3,401.9 621.6,401.6 622.9,401.6 624.3,401.3 625.6,400.5 626.9,399.9 628.2,399.5 629.5,399.7 630.8,399.2 632.2,399.1 633.5,399.1 634.8,398.5 636.1,398.0 637.4,398.0 638.7,397.7 640.1,397.1 641.4,397.0 642.7,396.5 644.0,396.1 645.3,395.5 646.6,395.6 647.9,395.6 649.3,395.3 650.6,395.3 651.9,394.4 653.2,394.0 654.5,393.8 655.8,394.0 657.2,393.9 658.5,393.4 659.8,392.9 661.1,392.6 662.4,392.4 663.7,392.5 665.1,391.9 666.4,391.9 667.7,391.8 669.0,391.6 670.3,391.4 671.6,391.1 672.9,390.6 674.3,390.3 675.6,390.0 676.9,390.1 678.2,389.5 679.5,389.2 680.8,389.4 682.2,389.0 683.5,388.6 684.8,388.3 686.1,388.4 687.4,388.2 688.7,388.5 690.1,388.5 691.4,388.5 692.7,387.8 694.0,387.3 695.3,386.9 696.6,386.9 697.9,386.9 699.3,386.7 700.6,386.3 701.9,386.1 703.2,386.1 704.5,386.0 705.8,385.9 707.2,385.9 708.5,385.6 709.8,385.0 711.1,385.1 712.4,384.7 713.7,384.5 715.1,384.2 716.4,384.3 717.7,383.8 719.0,383.5 720.3,383.2 721.6,382.9 722.9,383.2 724.3,383.1 725.6,382.8 726.9,382.5 728.2,382.8 729.5,382.5 730.8,382.0 732.2,382.1 733.5,382.0 734.8,382.1 736.1,381.4 737.4,381.3 738.7,381.3 740.1,381.3 741.4,381.3 742.7,380.6 744.0,380.3 745.3,380.0 746.6,379.8 747.9,380.2 749.3,380.1 750.6,380.2 751.9,379.8 753.2,379.9 754.5,379.6 755.8,379.2 757.2,379.3 758.5,379.5 759.8,378.9 761.1,378.8 762.4,378.8 763.7,378.4 765.1,378.2 766.4,377.9 767.7,377.7 769.0,377.6 770.3,377.7 771.6,377.7 772.9,377.3 774.3,376.9 775.6,376.8 776.9,376.9 778.2,376.6 779.5,376.4 780.8,376.1 782.2,376.3 783.5,376.2 784.8,375.6 786.1,375.3 787.4,375.3 788.7,375.3 790.1,375.4 791.4,374.9 792.7,374.7 794.0,374.9 795.3,374.8 796.7,374.6 798.2,374.5 799.6,374.9 801.1,374.6 802.6,374.6 804.1,374.4 805.6,374.4 807.0,374.7 808.5,374.9 809.9,374.6 811.3,374.3 812.6,374.5 813.8,374.2 815.0,374.0 816.2,374.5 817.2,374.4 818.2,374.7 819.0,374.6 821.4,375.2 822.2,375.7 822.6,376.0 824.0,375.8 824.9,375.9 825.8,376.0 826.9,376.1 828.0,375.4 829.1,375.2 830.4,374.7 831.7,374.4 833.1,373.5 834.7,373.0 836.3,372.8 838.0,372.9 839.0,371.9 840.0,371.6 841.1,371.7 842.3,371.8 843.4,370.6 844.6,369.6 845.8,370.0 847.1,370.0 848.4,369.1 849.7,367.8 851.0,368.1 852.3,367.3 853.6,367.3 855.0,366.7 856.3,366.5 857.7,365.3 859.0,365.3 860.3,364.3 861.7,363.9 863.0,364.1 864.3,364.1 865.6,363.1 866.9,362.5 868.3,362.3 869.7,362.2 871.1,362.0 872.5,361.4 873.9,361.1 875.3,361.6 876.7,362.0 878.2,360.9 879.5,361.0 880.9,361.2 882.3,360.2 883.6,360.7 884.8,359.8 886.1,359.9 887.3,359.8 888.4,359.6 889.5,358.9 890.5,358.5 892.0,358.1 893.3,357.2 894.6,356.7 895.7,355.6 896.7,354.6 897.6,353.0 898.5,352.6 899.4,351.7 900.3,350.5 901.2,350.2 902.1,349.7 903.1,348.8 904.2,347.7 905.5,347.3 906.8,346.4 908.0,345.8 909.3,345.9 910.7,345.4 912.0,345.5 913.3,345.6 914.7,345.0 916.1,345.4 917.5,344.7 919.0,345.2 920.5,345.3 921.7,345.0 923.1,344.0 924.4,344.0 925.9,343.7 927.3,344.2 928.8,343.2 930.2,343.6 931.7,343.8 933.1,343.5 934.5,343.3 935.9,342.2 937.2,342.6 938.4,342.1 939.5,342.3 940.5,342.3 942.4,340.8 943.9,340.5 945.2,340.3 946.4,338.7 947.4,338.2 948.3,338.6 949.2,338.4 950.0,339.8 950.7,340.5 951.2,342.4 951.8,343.3 952.3,345.0 952.8,347.2 953.5,347.8 954.2,348.4 955.5,349.0 957.0,348.7 958.6,347.8 960.2,347.4 961.7,347.3 963.0,348.8 963.7,349.8 964.4,351.4 964.9,351.9 965.5,353.8 966.0,354.6 966.5,356.3 967.0,358.0 967.5,358.9 968.0,360.4 969.2,361.2 970.5,361.1 971.8,361.7 973.0,362.3 973.4,363.9 973.7,364.6 974.0,365.3 974.4,366.7 974.7,367.3 975.1,369.2 975.4,370.3 975.8,371.2 976.1,373.0 976.5,374.2 976.8,375.1 977.2,377.1 977.6,377.9 978.0,380.1 978.3,380.9 978.6,382.4 978.9,384.3 979.3,385.4 979.6,386.7 980.0,387.6 980.3,388.3 980.7,389.4 981.0,390.8 981.4,392.8 981.7,394.3 982.1,395.9 982.4,397.9 982.8,398.5 983.1,399.6 983.4,401.3 983.7,401.9 984.0,402.8 984.2,404.2 984.6,405.6 985.0,407.3 985.3,408.7 985.5,410.5 985.8,412.0 986.1,412.9 986.3,414.4 986.6,415.7 986.8,416.4 987.1,418.6 987.4,419.4 987.7,420.4 988.0,421.6 988.3,423.4 988.5,425.4 988.8,427.1 989.1,428.2 989.4,429.3 989.7,430.3 990.0,432.4 990.3,434.2 990.6,435.5 990.9,437.3 991.2,438.7 991.5,440.6 991.8,442.0 992.1,442.5 992.4,444.0 992.7,444.0 993.0,444.9 994.3,446.4 995.6,446.1 996.8,444.2 998.0,442.4 998.3,441.0 998.5,440.4 998.7,440.2 999.0,438.3 999.2,436.8 999.4,435.9 999.6,434.6 999.8,433.4 1000.1,431.9 1000.3,430.2 1000.5,428.6 1000.7,427.1 1000.9,425.5 1001.1,424.2 1001.3,422.9 1001.5,421.5 1001.8,419.9 1002.0,418.7 1002.2,417.5 1002.4,416.1 1002.6,414.8 1002.9,413.4 1003.1,411.9 1003.3,410.4 1003.5,409.0 1003.7,407.6 1004.0,406.4 1004.2,405.2 1004.4,404.0 1004.6,402.8 1004.8,401.5 1005.1,400.0 1005.3,398.8 1005.5,397.5 1005.7,396.2 1006.0,394.7 1006.2,393.2 1006.4,391.9 1006.7,390.6 1006.9,389.0 1007.1,387.8 1007.3,386.2 1007.6,384.8 1007.8,383.4 1008.1,382.3 1008.3,381.2 1008.6,380.0 1008.9,378.7 1009.2,377.7 1009.7,376.0 1010.3,374.5 1010.8,373.3 1011.4,372.0 1012.0,370.8 1012.6,369.5 1013.2,368.5 1013.8,367.2 1014.4,366.2 1015.0,365.0 1015.5,364.0 1016.2,362.5 1016.8,361.2 1017.3,359.9 1017.8,358.7 1018.4,357.4 1019.0,356.3 1019.7,354.9 1020.5,353.8 1021.2,352.5 1021.9,351.1 1022.8,349.8 1023.6,348.7 1024.5,347.2 1025.4,345.7 1026.3,344.3 1027.1,343.1 1027.9,342.4 1028.6,341.7 1029.2,341.3 1030.6,340.9 1031.5,341.1 1032.3,342.9 1033.0,346.2 1033.1,347.1 1033.3,348.1 1033.4,349.1 1033.5,349.7 1033.7,350.9 1033.8,352.1 1033.9,353.3 1034.0,354.1 1034.1,355.2 1034.3,356.4 1034.4,357.6 1034.5,359.2 1034.6,360.7 1034.7,362.2 1034.8,363.7 1034.9,365.2 1035.0,366.6 1035.1,368.1 1035.2,369.6 1035.3,371.5 1035.4,373.1 1035.5,374.9 1035.6,376.0 1035.6,377.0 1035.7,378.3 1035.7,379.7 1035.8,381.3 1035.8,382.7 1035.9,384.2 1035.9,386.0 1036.0,387.6 1036.0,389.4 1036.1,391.0 1036.1,392.5 1036.2,394.3 1036.2,396.0 1036.3,397.9 1036.3,399.6 1036.3,401.4 1036.4,403.1 1036.4,404.7 1036.5,406.5 1036.5,407.9 1036.6,409.7 1036.6,411.1 1036.6,412.4 1036.7,413.8 1036.7,415.4 1036.8,416.9 1036.8,417.8 1036.9,418.9 1036.9,420.0 1037.0,421.0 1037.0,421.6 1037.1,422.3 1037.1,422.8 1037.2,423.4 1037.2,423.6 1037.2,423.9 1037.3,423.7 1037.4,423.4 1037.4,423.2 1037.5,422.6 1037.5,421.7 1037.6,421.0 1037.6,419.9 1037.7,419.0 1037.7,417.8 1037.8,416.6 1037.8,415.1 1037.9,413.5 1037.9,411.9 1038.0,410.2 1038.0,408.7 1038.1,406.7 1038.2,405.1 1038.2,403.1 1038.3,401.2 1038.3,399.4 1038.4,397.8 1038.4,396.0 1038.5,394.2 1038.6,392.6 1038.6,390.7 1038.7,389.1 1038.8,387.5 1038.8,386.1 1038.9,384.8 1039.0,383.4 1039.1,382.1 1039.2,380.9 1039.2,379.8 1039.5,377.6 1039.8,375.5 1040.1,373.6 1040.4,371.6 1040.8,370.0 1041.1,368.7 1041.4,367.4 1041.8,366.2 1042.1,365.3 1042.4,364.8 1042.7,364.1 1043.0,363.6 1043.4,363.4 1043.8,363.9 1044.2,365.0 1044.5,366.1 1044.8,367.8 1045.2,369.9 1045.5,372.3 1045.6,373.4 1045.7,374.3 1045.9,375.5 1046.0,376.8 1046.1,378.4 1046.2,379.9 1046.3,381.2 1046.4,383.0 1046.5,384.3 1046.6,385.8 1046.7,387.6 1046.8,389.2 1046.9,390.7 1047.1,392.1 1047.2,393.3 1047.3,394.7 1047.5,395.7 1047.6,396.8 1047.8,397.8 1048.0,398.5 1049.1,401.0 1050.4,401.8 1051.8,401.9 1053.0,402.5 1053.7,403.6 1054.4,404.7 1055.0,405.7 1055.6,407.1 1056.2,408.5 1056.8,410.1 1057.2,411.7 1057.6,413.3 1057.9,415.1 1058.2,417.0 1058.6,418.4 1058.9,419.4 1059.2,420.0 1059.7,420.0 1060.0,419.1 1060.4,417.6 1060.8,416.0 1061.3,414.2 1061.8,412.7 1062.2,411.1 1062.7,409.0 1063.3,407.0 1063.8,405.0 1064.4,403.6 1065.0,403.2 1065.5,403.9 1065.7,404.4 1065.9,404.8 1066.1,405.6 1066.3,406.4 1066.4,407.4 1066.6,408.4 1066.8,409.7 1067.0,411.0 1067.2,412.1 1067.4,413.6 1067.6,415.1 1067.8,416.5 1067.9,418.0 1068.1,419.8 1068.3,421.2 1068.5,423.0 1068.7,424.6 1068.9,426.5 1069.1,428.4 1069.2,430.1 1069.4,431.0 1069.5,432.2 1069.6,433.4 1069.7,434.7 1069.8,435.9 1069.9,437.3 1070.1,438.7 1070.2,440.0 1070.3,441.3 1070.4,442.9 1070.5,444.1 1070.7,445.7 1070.8,447.1 1070.9,448.7 1071.0,450.0 1071.1,451.7 1071.2,453.1 1071.4,454.4 1071.5,455.8 1071.6,457.4 1071.7,458.7 1071.8,460.2 1071.9,461.7 1072.0,463.2 1072.2,464.5 1072.3,465.8 1072.4,467.0 1072.5,468.5 1072.6,469.9 1072.7,471.0 1072.7,471.9 1072.8,473.1 1072.9,474.1 1073.0,474.9 1073.2,477.1 1073.4,479.6 1073.5,481.8 1073.7,483.7 1073.8,485.4 1073.9,487.0 1074.0,488.3 1074.1,489.7 1074.3,490.6 1074.4,491.5 1074.5,492.2 1074.6,492.6 1074.8,492.6 1074.9,492.3 1075.0,491.9 1075.2,491.0 1075.3,490.2 1075.4,488.9 1075.6,487.6 1075.7,485.9 1075.8,484.2 1076.0,482.3 1076.2,480.5 1076.3,478.5 1076.5,476.5 1076.8,474.9 1076.9,473.8 1077.0,472.6 1077.2,471.4 1077.3,470.1 1077.4,468.8 1077.6,467.5 1077.8,466.1 1077.9,464.6 1078.1,463.3 1078.3,461.9 1078.4,460.1 1078.6,458.7 1078.8,457.4 1079.0,455.9 1079.1,454.2 1079.3,453.0 1079.5,451.7 1079.7,450.1 1079.8,448.8 1080.0,447.9 1080.2,446.9 1080.3,445.8 1080.5,444.8 1081.1,442.3 1081.8,441.1 1082.5,440.6 1083.1,440.0 1083.7,439.0 1084.2,437.6 1084.5,436.7 1084.6,435.4 1084.8,434.4 1085.0,433.0 1085.1,431.8 1085.3,430.3 1085.4,429.0 1085.6,427.5 1085.7,426.0 1085.9,424.3 1086.0,422.9 1086.2,421.4 1086.4,420.1 1086.5,418.8 1086.8,417.7 1087.0,416.0 1087.3,414.3 1087.6,412.7 1088.0,411.1 1088.3,409.8 1088.6,408.3 1089.0,407.0 1089.4,405.7 1089.7,404.6 1090.1,403.5 1090.5,402.5 1091.3,401.1 1092.1,399.8 1092.9,399.1 1093.8,398.2 1094.7,396.9 1095.5,395.1 1095.8,394.2 1096.1,392.9 1096.5,391.6 1096.8,390.5 1097.1,388.8 1097.4,387.4 1097.7,386.0 1098.0,384.2 1098.3,382.8 1098.6,381.4 1099.0,380.1 1099.3,378.6 1099.7,377.5 1100.1,376.2 1100.5,375.1 1101.2,373.6 1102.0,371.9 1102.8,370.8 1103.6,369.7 1104.4,368.6 1105.3,367.8 1106.2,366.8 1107.1,365.9 1108.0,365.0 1109.1,364.1 1110.3,362.9 1111.5,361.9 1112.7,360.9 1113.9,360.2 1115.1,359.7 1116.1,359.3 1117.0,359.4 1117.9,359.8 1118.7,360.8 1119.3,362.1 1119.8,363.8 1120.3,365.8 1120.8,367.7 1121.0,368.9 1121.3,370.1 1121.5,371.5 1121.7,373.0 1121.8,374.7 1122.0,376.3 1122.3,377.9 1122.5,379.0 1122.9,380.3 1123.2,381.4 1124.3,382.4 1125.6,382.3 1127.0,382.2 1128.3,382.3 1129.5,383.5 1129.9,384.7 1130.4,385.9 1130.7,387.4 1131.1,389.0 1131.4,390.7 1131.8,392.3 1132.1,393.8 1132.4,395.4 1132.7,396.8 1133.0,397.9 1133.2,398.9 1134.6,401.4 1135.8,401.3 1136.1,400.7 1136.5,400.0 1136.8,398.8 1137.2,397.5 1137.6,396.0 1137.9,394.5 1138.2,392.6 1138.4,391.6 1138.5,390.3 1138.6,389.2 1138.8,387.9 1138.9,386.3 1139.0,384.7 1139.1,383.0 1139.2,381.5 1139.3,379.9 1139.4,378.4 1139.6,377.0 1139.7,375.8 1139.8,374.2 1140.0,373.1 1140.1,371.9 1140.2,371.0 1141.0,368.3 1141.9,367.3 1143.2,367.7 1144.0,367.9 1144.9,368.0 1146.0,368.6 1147.0,369.4 1148.1,370.6 1149.1,371.9 1150.0,373.3 1150.8,375.0 1151.0,375.8 1151.2,376.8 1151.4,377.7 1151.6,378.7 1151.8,379.8 1151.9,380.9 1152.0,382.4 1152.2,383.6 1152.3,385.2 1152.4,386.3 1152.5,387.9 1152.5,389.2 1152.6,390.5 1152.7,392.2 1152.8,393.6 1152.9,395.3 1153.0,396.7 1153.1,398.2 1153.2,400.0 1153.3,401.2 1153.4,402.5 1153.5,403.8 1153.6,404.7 1153.7,406.1 1153.8,407.4 1153.9,408.7 1154.0,410.1 1154.1,411.3 1154.2,412.8 1154.3,414.2 1154.4,415.3 1154.5,416.5 1154.6,418.0 1154.7,419.6 1154.8,420.8 1154.9,422.2 1155.0,423.7 1155.1,425.0 1155.2,426.6 1155.3,428.0 1155.4,429.2 1155.5,430.6 1155.6,432.2 1155.7,433.6 1155.8,435.0 1155.8,436.2 1155.9,437.8 1156.0,439.3 1156.1,440.9 1156.1,442.6 1156.2,444.2 1156.3,445.9 1156.4,447.8 1156.4,449.7 1156.5,451.5 1156.6,453.2 1156.7,454.8 1156.7,456.4 1156.8,458.4 1156.9,460.1 1156.9,461.8 1157.0,463.1 1157.1,464.6 1157.1,466.1 1157.2,467.4 1157.3,468.5 1157.3,469.4 1157.4,470.3 1157.5,471.2 1157.5,471.7 1157.6,472.2 1157.7,472.5 1157.8,472.7 1157.8,472.6 1157.9,472.2 1157.9,471.5 1158.0,470.9 1158.1,470.2 1158.1,469.4 1158.2,468.5 1158.3,467.5 1158.3,465.9 1158.4,464.7 1158.5,463.4 1158.5,461.9 1158.6,460.3 1158.6,458.4 1158.7,456.9 1158.8,455.2 1158.8,453.4 1158.9,451.7 1158.9,449.8 1159.0,447.8 1159.1,446.1 1159.1,444.5 1159.2,442.6 1159.3,441.1 1159.3,439.6 1159.4,437.9 1159.4,436.4 1159.5,435.1 1159.6,433.7 1159.6,432.2 1159.7,430.7 1159.7,429.4 1159.8,428.1 1159.8,426.6 1159.9,424.9 1159.9,423.6 1160.0,422.2 1160.0,420.5 1160.1,419.1 1160.1,417.8 1160.2,416.4 1160.2,414.8 1160.3,413.3 1160.4,411.9 1160.4,410.3 1160.5,408.9 1160.5,407.5 1160.6,406.4 1160.7,405.0 1160.7,403.9 1160.8,402.6 1160.9,401.5 1161.0,400.3 1161.1,399.1 1161.2,398.5 1161.2,397.5 1161.5,395.0 1161.9,393.0 1162.2,391.3 1162.6,389.5 1163.0,388.3 1163.4,387.1 1163.8,386.3 1164.2,385.4 1164.6,384.9 1165.0,385.0 1165.5,385.5 1166.0,386.7 1166.5,388.5 1167.0,390.4 1167.6,392.5 1168.1,394.1 1168.5,395.2 1169.0,395.2 1169.2,394.8 1169.5,394.1 1169.7,392.8 1169.9,391.3 1170.1,389.9 1170.3,388.3 1170.5,386.6 1170.7,384.9 1170.8,383.4 1171.0,381.9 1171.2,380.2 1171.4,378.9 1171.6,377.5 1171.8,376.0 1172.0,375.0 1172.5,372.8 1173.0,370.8 1173.5,369.6 1174.0,368.4 1174.5,367.7 1175.0,367.6 1175.5,367.8 1175.9,368.0 1176.4,368.5 1176.8,369.7 1177.3,371.7 1177.8,375.1 1177.9,376.1 1178.0,376.8 1178.1,377.5 1178.2,378.5 1178.3,379.7 1178.4,381.0 1178.5,382.4 1178.6,383.6 1178.7,384.6 1178.8,386.1 1178.9,387.5 1179.0,388.8 1179.1,390.4 1179.2,391.5 1179.3,392.9 1179.4,394.5 1179.5,396.2 1179.6,397.7 1179.8,399.0 1179.9,400.6 1180.0,402.2 1180.1,403.5 1180.2,405.0 1180.3,406.5 1180.4,407.9 1180.5,409.5 1180.6,410.8 1180.8,412.3 1180.8,413.5 1180.9,415.0 1181.1,416.2 1181.2,417.7 1181.3,419.0 1181.4,420.3 1181.5,422.0 1181.6,423.3 1181.7,425.0 1181.8,426.5 1181.9,428.0 1182.0,429.2 1182.1,430.7 1182.2,432.0 1182.3,433.7 1182.5,435.3 1182.6,436.7 1182.7,438.0 1182.8,439.3 1182.9,440.9 1183.0,442.2 1183.1,443.6 1183.2,444.7 1183.3,445.9 1183.4,447.1 1183.5,448.5 1183.6,449.8 1183.7,450.8 1183.8,452.1 1183.8,453.0 1183.9,454.0 1184.0,454.8 1184.2,457.1 1184.3,459.4 1184.5,461.1 1184.6,462.6 1184.7,464.1 1184.8,465.3 1184.9,466.7 1185.0,467.5 1185.2,468.7 1185.3,469.4 1185.5,470.5 1185.8,471.4 1186.5,473.3 1187.4,475.0 1188.4,476.2 1189.4,476.6 1190.2,476.0 1190.6,475.6 1190.8,475.2 1191.1,474.6 1191.3,473.7 1191.6,472.3 1191.8,471.0 1192.0,469.8 1192.2,468.0 1192.5,466.4 1192.7,464.4 1193.0,462.5 1193.2,459.9 1193.4,459.1 1193.5,458.0 1193.6,456.8 1193.7,455.6 1193.8,454.7 1193.9,453.5 1194.0,452.1 1194.1,450.8 1194.2,449.7 1194.3,448.1 1194.4,446.8 1194.5,445.2 1194.6,443.7 1194.7,442.5 1194.8,441.1 1194.9,439.5 1195.0,437.8 1195.1,436.3 1195.3,435.0 1195.4,433.5 1195.5,432.0 1195.6,430.5 1195.7,429.1 1195.9,427.8 1196.0,426.5 1196.1,425.1 1196.3,423.6 1196.4,422.1 1196.5,421.0 1196.7,419.8 1196.8,418.7 1197.0,417.4 1197.2,415.9 1197.5,414.3 1197.7,412.8 1198.0,411.4 1198.3,409.7 1198.5,408.0 1198.8,406.7 1199.1,405.2 1199.4,403.9 1199.7,402.3 1200.0,400.9 1200.3,399.7 1200.6,398.3 1200.9,397.0 1201.2,395.8 1201.5,394.7 1201.8,393.4 1202.1,392.4 1202.4,391.4 1202.7,390.5 1203.0,389.4 1203.2,388.7 1204.1,386.5 1205.1,384.7 1206.0,383.1 1206.9,382.1 1207.8,381.3 1208.6,380.9 1209.5,380.4 1210.5,380.5 1211.4,380.9 1212.4,381.3 1213.3,382.4 1214.2,384.0 1215.0,386.3 1215.2,387.0 1215.5,388.3 1215.7,389.4 1215.9,390.6 1216.1,392.0 1216.3,393.5 1216.6,395.4 1216.8,396.8 1217.0,398.4 1217.2,400.3 1217.4,401.9 1217.5,403.3 1217.7,405.1 1217.9,406.6 1218.1,408.0 1218.3,409.3 1218.5,410.2 1218.6,411.3 1218.8,412.1 1219.0,412.4 1219.4,412.9 1219.8,412.7 1220.2,411.9 1220.5,410.4 1220.9,408.5 1221.2,406.6 1221.6,404.4 1222.0,402.4 1222.2,401.6 1222.4,400.2 1222.6,399.0 1222.8,397.8 1223.0,396.2 1223.3,394.9 1223.5,393.5 1223.7,391.9 1223.9,390.3 1224.2,388.9 1224.4,387.3 1224.6,385.8 1224.9,384.6 1225.1,383.4 1225.3,382.0 1225.5,380.8 1225.8,379.9 1226.5,377.8 1227.2,376.9 1228.0,376.3 1228.8,375.6 1229.5,374.0 1229.8,373.0 1230.1,371.5 1230.4,370.3 1230.7,369.1 1230.9,367.8 1231.2,366.1 1231.5,364.5 1231.9,363.1 1232.3,361.5 1232.7,360.1 1233.2,358.6 1233.8,357.4 1234.4,356.1 1235.1,354.6 1235.8,353.2 1236.6,352.2 1237.4,350.9 1238.2,349.8 1239.0,348.5 1239.8,347.4 1240.6,346.4 1241.3,345.6 1242.0,344.5 1243.6,343.2 1245.2,342.4 1246.7,342.2 1248.2,342.1 1249.5,342.5 1250.5,343.1 1251.4,343.8 1252.2,344.5 1252.9,345.7 1253.7,347.1 1254.5,348.9 1254.9,349.7 1255.3,350.8 1255.8,352.2 1256.2,353.4 1256.6,355.0 1257.1,356.6 1257.5,358.0 1257.9,359.3 1258.3,360.6 1258.7,361.9 1259.1,362.8 1259.5,363.5 1260.8,365.9 1262.0,367.0 1263.2,366.1 1263.6,365.4 1264.0,364.5 1264.3,363.3 1264.7,362.1 1265.1,360.9 1265.5,359.4 1265.9,357.9 1266.3,356.4 1266.7,354.7 1267.1,353.4 1267.5,352.1 1267.9,351.0 1268.2,350.1 1269.3,348.1 1270.3,346.5 1271.3,345.3 1272.3,344.7 1273.2,344.9 1273.9,345.2 1274.4,345.7 1275.0,346.3 1275.5,347.4 1276.0,349.1 1276.5,351.0 1277.0,353.7 1277.1,354.6 1277.3,355.4 1277.4,356.7 1277.5,357.6 1277.6,358.8 1277.7,359.8 1277.9,360.9 1278.0,362.4 1278.1,363.7 1278.2,364.9 1278.3,366.3 1278.4,367.8 1278.5,369.3 1278.6,370.6 1278.8,372.0 1278.9,373.7 1279.0,375.3 1279.1,376.5 1279.2,377.9 1279.3,379.3 1279.4,380.9 1279.5,382.3 1279.6,383.8 1279.8,385.2 1279.9,386.4 1280.0,387.7 1280.1,389.1 1280.3,390.5 1280.4,391.9 1280.5,393.4 1280.7,394.9 1280.8,396.4 1280.9,397.6 1281.1,399.2 1281.2,400.4 1281.3,402.0 1281.5,403.5 1281.6,404.9 1281.8,406.4 1281.9,407.7 1282.0,408.9 1282.2,410.3 1282.3,411.6 1282.5,412.7 1282.6,413.7 1282.8,414.7 1282.9,415.7 1283.1,416.7 1283.2,417.5 1283.9,420.2 1284.6,422.2 1285.3,423.5 1286.0,424.3 1286.8,424.9 1287.5,425.2 1288.2,425.0 1289.0,424.5 1289.7,423.5 1290.5,422.1 1291.2,420.0 1292.0,417.4 1292.2,416.6 1292.4,415.5 1292.6,414.6 1292.9,413.3 1293.1,412.2 1293.3,410.9 1293.5,409.6 1293.8,407.9 1294.0,406.4 1294.2,405.0 1294.4,403.2 1294.7,401.5 1294.9,400.1 1295.1,398.6 1295.3,397.3 1295.6,395.9 1295.8,394.4 1296.0,393.2 1296.2,391.8 1296.4,390.6 1296.6,389.5 1296.8,388.4 1297.0,387.5 1297.7,384.7 1298.3,382.6 1298.9,381.4 1299.5,380.4 1300.1,379.8 1300.8,379.4 1301.5,379.9 1302.4,381.3 1303.2,383.2 1304.1,385.0 1305.0,386.3 1305.8,386.5 1306.2,385.9 1306.6,384.9 1307.0,383.7 1307.3,382.5 1307.7,380.7 1308.1,379.0 1308.4,377.4 1308.8,375.5 1309.1,373.9 1309.5,372.6 1309.9,371.3 1310.2,369.6 1310.6,367.8 1310.9,366.4 1311.3,364.8 1311.7,363.4 1312.0,362.1 1312.4,360.9 1312.8,359.7 1313.2,358.7 1314.9,357.5 1316.6,358.1 1318.2,360.0 1318.7,360.7 1319.1,361.6 1319.5,362.9 1319.9,364.2 1320.3,365.5 1320.7,367.1 1321.0,368.5 1321.3,369.7 1321.7,371.1 1322.0,372.6 1322.3,374.0 1322.6,375.9 1322.9,377.6 1323.2,379.5 1323.4,381.5 1323.7,383.1 1323.9,384.3 1324.2,384.9 1324.5,385.0 1324.7,384.6 1324.9,383.8 1325.1,382.8 1325.3,381.5 1325.5,380.2 1325.8,378.5 1326.0,376.6 1326.2,374.7 1326.4,372.9 1326.7,371.4 1327.0,369.7 1327.2,368.3 1327.5,367.2 1328.1,365.5 1328.8,364.2 1329.5,363.1 1330.3,362.2 1331.1,361.2 1332.0,360.5 1333.5,360.1 1335.2,359.8 1336.8,360.2 1338.2,361.2 1338.8,361.8 1339.3,362.7 1339.7,363.6 1340.2,365.1 1340.6,366.4 1340.9,367.7 1341.3,369.2 1341.7,370.7 1342.0,372.3 1342.2,373.7 1342.4,375.1 1342.6,376.8 1342.7,378.4 1342.9,380.2 1343.1,381.9 1343.2,383.5 1343.4,385.5 1343.5,387.3 1343.7,388.7 1343.8,390.2 1344.0,391.3 1344.2,391.9 1344.3,392.4 1344.5,392.7 1344.7,392.4 1344.8,392.0 1345.0,390.9 1345.1,389.8 1345.3,388.6 1345.5,387.0 1345.6,385.4 1345.8,383.9 1346.0,382.1 1346.1,380.5 1346.3,378.5 1346.5,376.7 1346.7,375.0 1346.9,373.4 1347.1,372.3 1347.3,371.0 1347.5,370.0 1348.2,367.6 1348.9,365.8 1349.6,364.4 1350.4,363.3 1351.2,362.6 1352.0,362.2 1352.8,362.6 1353.6,363.2 1354.4,364.2 1355.2,365.4 1356.1,366.9 1357.0,368.5 1357.5,369.4 1358.1,370.6 1358.6,371.6 1359.2,372.6 1359.8,374.0 1360.3,375.1 1360.9,376.3 1361.5,377.9 1362.1,379.2 1362.7,380.8 1363.2,382.6 1363.6,383.8 1364.0,384.7 1364.4,385.8 1364.7,387.1 1365.1,388.2 1365.5,389.7 1365.9,390.7 1366.3,392.2 1366.6,393.5 1367.0,394.7 1367.4,396.1 1367.8,397.4 1368.1,399.0 1368.5,400.4 1368.8,402.1 1369.2,403.6 1369.5,405.0 1369.7,406.1 1370.0,407.4 1370.2,408.5 1370.5,410.0 1370.7,411.2 1370.9,412.6 1371.2,414.0 1371.4,415.3 1371.6,416.9 1371.8,418.2 1372.0,419.7 1372.3,421.2 1372.5,422.5 1372.7,423.8 1372.9,425.1 1373.1,426.4 1373.3,428.0 1373.5,429.2 1373.7,430.5 1373.9,431.6 1374.1,432.8 1374.3,433.9 1374.5,435.0 1374.9,436.8 1375.2,438.4 1375.5,440.1 1375.8,441.6 1376.1,443.0 1376.4,444.5 1376.7,445.8 1377.0,447.0 1377.3,448.3 1377.6,449.4 1377.9,450.5 1378.2,451.5 1379.0,452.7 1379.8,453.6 1380.6,454.1 1381.4,454.9 1382.3,456.0 1383.2,457.5 1383.7,458.4 1384.1,459.5 1384.5,460.8 1385.0,462.0 1385.4,463.5 1385.9,464.8 1386.4,466.3 1386.8,467.6 1387.3,468.9 1387.8,470.5 1388.2,471.9 1388.7,473.1 1389.1,474.0 1389.5,474.8 1390.4,476.6 1391.3,478.1 1392.2,479.4 1393.0,480.3 1393.8,480.8 1394.5,481.0 1395.3,480.8 1396.0,479.8 1396.7,478.7 1397.4,477.0 1398.2,475.1 1398.7,474.0 1399.1,472.9 1399.5,471.7 1399.9,470.4 1400.4,468.8 1400.8,467.7 1401.3,466.4 1401.8,464.9 1402.2,463.4 1402.7,462.4 1403.2,461.3 1403.9,459.8 1404.5,458.5 1405.2,457.2 1405.9,456.2 1406.6,455.0 1407.3,454.2 1408.0,453.2 1408.7,452.0 1409.5,451.3 1410.7,450.1 1411.9,449.2 1413.2,448.4 1414.5,447.5 1415.7,446.6 1417.0,446.3 1418.5,445.6 1420.1,445.1 1421.7,444.6 1423.2,444.6 1424.5,445.2 1425.2,445.9 1425.8,446.8 1426.4,447.8 1426.9,449.4 1427.4,450.8 1427.9,452.3 1428.4,453.9 1429.0,455.0 1429.5,456.3 1430.3,457.7 1431.1,459.5 1431.9,461.1 1432.7,462.3 1433.6,463.3 1434.5,463.9 1435.5,464.0 1436.6,463.7 1437.7,462.9 1438.8,461.8 1439.8,460.4 1440.8,458.6 1441.1,457.6 1441.4,456.5 1441.8,455.1 1442.1,453.9 1442.5,452.5 1442.8,450.8 1443.1,449.1 1443.4,447.6 1443.7,446.0 1444.0,444.6 1444.2,443.1 1444.5,441.6 1444.7,440.6 1444.8,439.5 1445.0,438.8"/>
<polyline stroke="#00f" points="120.0,515.0 120.8,515.2 121.7,516.1 122.8,516.0 124.0,516.1 125.3,516.4 126.8,516.1 128.3,516.7 129.8,517.3 131.4,518.0 132.9,517.5 134.5,517.6 136.0,517.5 137.5,518.7 138.8,519.3 140.1,518.7 141.5,519.9 142.8,520.7 144.3,520.8 145.7,520.8 147.1,520.3 148.5,519.8 149.9,520.5 151.3,520.2 152.6,520.3 153.9,520.5 155.2,520.4 156.4,521.1 157.5,521.5 159.3,522.4 161.0,522.4 162.6,522.6 164.1,522.5 165.5,522.7 166.9,522.4 168.0,522.0 169.1,523.0 170.0,523.7 171.7,525.2 172.5,526.0 173.5,524.8 174.5,523.2 175.8,522.0 177.5,521.0 178.6,522.0 179.9,522.1 181.3,523.1 182.8,523.2 184.3,524.4 185.9,525.1 187.5,524.2 188.8,524.2 190.2,525.5 191.6,525.8 193.0,526.9 194.5,526.7 195.9,526.3 197.3,527.0 198.7,527.8 200.0,527.4 201.6,526.7 203.1,526.4 204.5,527.0 205.9,526.8 207.3,525.6 208.7,525.3 210.0,525.3 210.9,525.6 211.9,527.6 212.8,528.3 213.8,530.0 214.7,531.4 215.6,532.3 216.4,534.2 217.3,534.6 218.0,535.8 218.8,535.6 219.8,535.4 220.6,533.8 221.4,532.0 222.1,531.3 222.9,530.2 223.8,528.8 224.7,529.5 225.7,529.4 226.7,530.3 227.8,532.2 228.9,533.3 230.0,533.4 231.2,535.0 232.4,534.7 233.7,534.8 235.0,536.0 236.2,536.4 237.5,537.1 238.3,537.4 239.2,538.1 240.1,539.8 241.0,540.7 241.8,542.3 242.7,543.4 243.5,544.7 244.3,546.8 245.0,547.8 245.6,549.0 246.3,550.8 246.9,551.4 247.5,552.3 248.0,554.7 248.6,556.5 249.0,557.1 249.4,557.7 249.8,559.3 250.0,560.3 248.8,559.9 248.9,561.4 249.1,562.6 249.4,563.3 249.7,564.0 250.0,564.5 250.3,565.8 250.7,567.8 251.1,569.0 251.5,570.7 251.9,572.1 252.3,573.9 252.8,575.5 253.2,576.8 253.6,578.2 254.0,579.9 254.4,581.1 254.8,582.4 255.2,584.0 255.6,585.5 255.9,586.7 256.2,587.4 256.8,589.6 257.4,590.7 257.9,591.5 258.4,592.5 258.8,593.5 259.3,594.2 259.7,595.1 260.2,596.4 260.7,598.1 261.2,599.7 261.5,600.7 261.8,602.1 262.1,603.5 262.3,604.6 262.6,605.8 262.9,606.9 263.2,607.8 263.5,608.9 263.8,610.0 264.1,611.9 264.4,613.5 264.7,615.2 265.0,616.0 265.3,617.6 265.6,619.0 265.9,620.6 266.2,621.8 266.5,623.7 266.9,624.6 267.2,626.1 267.5,627.7 267.8,629.1 268.1,630.4 268.4,631.6 268.7,632.9 269.0,634.2 269.3,635.1 269.6,636.4 269.9,637.9 270.2,639.2 270.5,640.2 270.9,641.6 271.2,643.0 271.5,644.1 271.8,645.4 272.2,646.5 272.5,647.8 272.8,649.2 273.2,650.2 273.5,651.8 273.9,653.5 274.3,655.1 274.6,656.5 275.0,657.7 275.3,658.9 275.6,660.1 275.9,661.2 276.3,662.6 276.6,663.4 276.9,665.0 277.2,665.9 277.6,667.4 277.9,668.7 278.3,669.8 278.6,671.4 279.0,672.7 279.3,674.2 279.7,675.8 280.0,676.8 280.4,677.8 280.7,679.1 281.1,680.8 281.5,681.9 281.8,683.1 282.2,684.9 282.5,686.3 282.9,687.5 283.2,689.0 283.6,690.1 284.0,691.4 284.3,692.4 284.7,693.7 285.0,695.2 285.4,696.7 285.8,698.2 286.2,699.2 286.6,700.5 286.9,701.6 287.3,702.7 287.7,704.1 288.1,705.7 288.5,707.2 288.9,708.4 289.3,709.9 289.7,710.7 290.1,711.7 290.5,713.0 290.9,714.1 291.2,715.3 291.6,716.6 292.0,718.0 292.4,719.2 292.8,720.3 293.2,721.8 293.5,723.3 293.9,724.2 294.3,725.0 294.6,725.9 295.0,727.5 295.4,728.5 295.8,730.2 296.3,731.6 296.7,732.8 297.1,734.3 297.5,735.2 297.9,736.4 298.3,737.8 298.7,738.9 299.1,740.6 299.5,741.7 299.9,742.7 300.3,743.8 300.7,745.4 301.1,746.6 301.5,748.0 301.9,749.3 302.3,750.7 302.6,752.0 303.0,753.1 303.4,753.9 303.8,755.0 304.2,756.1 304.7,757.2 305.1,758.8 305.6,760.4 306.0,761.4 306.5,762.7 306.9,764.0 307.3,765.5 307.8,766.7 308.2,768.0 308.6,769.4 309.0,770.4 309.4,771.8 309.8,773.2 310.2,773.9 310.6,775.4 310.9,776.6 311.2,777.4 311.6,778.8 312.0,780.3 312.3,781.9 312.6,783.0 312.9,784.4 313.2,785.9 313.5,787.3 313.8,788.7 314.0,789.7 314.3,791.0 314.5,792.0 314.8,793.5 315.0,795.0 315.3,796.4 315.5,797.8 315.7,798.7 315.9,800.3 316.1,801.9 316.3,803.4 316.5,804.5 316.7,806.0 316.9,807.1 317.1,808.7 317.3,810.2 317.5,811.3 317.6,812.3 317.8,813.7 318.0,815.1 318.2,816.6 318.4,817.8 318.6,818.6 318.8,820.1 319.0,821.4 319.3,823.5 319.6,824.9 319.9,826.5 320.2,828.4 320.5,829.6 320.8,830.8 321.1,832.2 321.4,833.5 321.7,834.6 322.0,835.3 322.9,836.4 323.9,835.2 325.0,833.0 325.3,831.7 325.7,830.6 326.1,829.6 326.5,828.4 326.9,827.4 327.3,826.2 327.7,824.8 328.2,823.6 328.6,822.1 329.1,820.4 329.5,818.9 330.0,817.7 330.4,816.8 330.7,815.2 331.1,814.2 331.5,813.2 331.9,811.7 332.3,810.2 332.7,808.6 333.1,807.3 333.5,806.0 333.9,804.7 334.3,803.1 334.7,802.3 335.1,801.0 335.5,799.7 335.9,798.8 336.2,797.7 336.8,796.0 337.3,794.6 337.8,792.7 338.3,791.5 338.8,790.2 339.3,789.4 339.8,788.4 340.3,787.0 340.8,785.9 341.2,784.7 342.3,783.2 343.2,782.1 344.3,781.3 345.2,780.4 346.2,780.0 347.3,780.2 348.3,781.6 349.3,783.3 350.3,784.2 351.2,785.1 352.5,785.1 353.7,784.5 355.0,782.1 355.3,781.6 355.6,780.5 355.9,779.3 356.3,778.1 356.6,776.5 357.0,775.3 357.3,773.5 357.7,772.0 358.0,770.4 358.4,768.7 358.7,767.4 359.1,766.0 359.4,764.6 359.7,763.4 360.0,762.4 360.5,760.5 361.0,758.9 361.4,757.9 361.8,756.9 362.2,755.9 362.7,755.0 363.2,753.9 363.8,752.9 364.3,751.4 365.0,750.6 365.7,749.8 366.5,748.9 367.3,747.6 368.0,746.3 368.7,745.5 369.4,743.9 370.0,742.8 370.4,741.9 370.7,740.2 371.0,738.8 371.3,737.8 371.6,736.3 371.9,734.7 372.2,733.7 372.4,732.2 372.7,731.0 372.9,729.2 373.2,727.7 373.5,726.5 373.8,724.7 374.0,723.3 374.3,722.4 374.5,721.4 374.8,720.3 375.0,718.4 375.2,717.1 375.5,715.9 375.8,714.4 376.0,713.1 376.2,711.5 376.5,709.8 376.8,708.4 377.0,707.0 377.2,706.0 377.5,704.8 377.8,703.5 378.1,701.9 378.3,700.4 378.6,699.0 378.8,698.1 379.1,697.1 379.4,695.9 379.6,694.1 379.9,692.5 380.2,691.6 380.5,690.2 380.9,689.1 381.2,687.5 381.6,686.2 382.0,685.0 382.4,683.7 382.7,682.5 383.1,680.9 383.6,680.0 384.0,679.0 384.4,677.4 384.9,676.2 385.4,675.1 385.9,673.7 386.4,672.3 386.9,670.9 387.5,669.8 388.1,668.4 388.6,667.7 389.2,666.8 389.8,665.7 390.5,664.7 391.1,663.4 391.8,662.1 392.4,661.0 393.1,659.8 393.8,658.9 394.6,657.8 395.3,656.2 396.0,655.3 396.8,654.1 397.5,652.9 398.1,651.9 398.8,650.6 399.4,649.7 400.1,648.7 400.8,647.5 401.5,646.3 402.2,645.2 402.9,643.8 403.6,642.8 404.3,641.2 405.0,640.0 405.7,638.9 406.5,637.5 407.2,636.5 407.9,635.6 408.6,634.7 409.3,633.4 410.0,632.7 410.8,631.6 411.6,630.2 412.3,629.1 413.1,628.0 413.9,626.8 414.7,625.6 415.5,624.8 416.2,623.7 417.0,622.6 417.8,621.5 418.6,620.7 419.4,619.0 420.2,618.1 420.9,617.2 421.7,615.9 422.5,614.9 423.4,613.5 424.3,612.4 425.2,611.5 426.0,610.3 426.9,609.3 427.8,608.8 428.7,607.9 429.6,606.9 430.4,606.3 431.3,605.2 432.2,604.5 433.1,603.5 434.1,602.6 435.0,601.2 436.0,600.3 437.0,599.5 438.0,598.1 439.0,597.5 440.1,596.1 441.1,595.1 442.2,594.0 443.2,593.1 444.2,592.4 445.2,591.2 446.2,590.8 447.1,590.0 448.0,589.3 448.8,588.8 450.7,587.7 452.3,587.2 453.6,587.3 454.9,587.4 456.2,586.9 457.6,586.3 458.8,585.1 460.0,583.8 461.3,583.0 462.5,582.7 463.6,583.2 464.7,584.6 465.8,585.8 466.9,587.4 468.0,588.5 469.0,588.6 470.3,588.7 471.5,587.8 472.7,586.2 474.0,586.5 474.7,587.0 475.4,587.9 476.1,589.5 476.9,590.5 477.7,591.9 478.5,593.5 479.3,594.6 480.2,595.2 481.6,595.8 483.1,595.7 484.7,595.1 486.3,594.3 487.7,594.4 489.0,595.0 489.7,595.5 490.3,596.2 490.8,597.6 491.3,598.6 491.8,600.1 492.3,601.8 492.7,603.2 493.1,604.5 493.6,606.1 494.0,607.4 494.4,609.1 494.8,610.6 495.2,612.5 495.6,614.3 496.0,615.9 496.3,617.0 496.7,618.1 497.0,619.8 497.4,620.9 497.8,621.5 498.7,621.6 499.6,620.4 500.5,619.0 501.5,617.6 502.4,616.4 503.3,614.9 504.2,613.6 505.1,612.3 506.0,612.3 506.4,613.2 506.9,614.0 507.3,614.9 507.7,615.3 508.1,616.2 508.5,617.5 508.9,619.2 509.4,621.1 509.8,622.6 510.2,624.9 510.5,625.6 510.7,626.5 510.9,628.1 511.1,629.4 511.3,630.8 511.5,632.1 511.8,633.5 512.0,634.7 512.2,636.2 512.5,638.0 512.7,639.7 512.9,640.8 513.2,642.1 513.4,644.0 513.6,645.6 513.8,647.1 514.1,648.2 514.3,649.5 514.5,650.6 514.7,652.1 514.9,653.1 515.1,654.2 515.2,655.4 515.8,657.7 516.3,659.8 516.7,661.6 517.1,663.1 517.5,663.7 518.0,663.9 518.5,663.5 518.8,663.5 519.2,662.5 519.5,661.4 519.9,660.6 520.3,659.4 520.6,658.2 521.0,656.5 521.4,655.1 521.8,653.1 522.3,651.3 522.8,649.9 523.1,648.5 523.4,647.3 523.7,646.3 524.1,645.1 524.5,643.4 524.9,641.7 525.2,640.2 525.6,639.0 526.0,637.4 526.4,635.6 526.8,634.5 527.2,633.1 527.6,632.1 527.9,631.0 528.3,630.0 528.7,628.7 529.0,627.9 530.0,625.2 531.0,623.5 531.9,622.6 532.9,622.7 534.0,622.9 534.8,623.0 535.8,623.7 536.8,624.8 537.8,626.0 538.9,627.3 539.8,628.4 540.7,629.2 541.5,629.9 542.7,630.4 543.6,629.9 544.4,628.8 545.2,626.5 545.5,625.2 545.8,624.4 546.0,623.5 546.2,621.8 546.5,620.1 546.7,618.8 547.0,617.4 547.2,615.9 547.5,614.7 547.7,613.1 548.0,611.8 548.3,609.9 548.7,608.7 549.0,607.7 549.5,605.8 550.1,604.1 550.6,603.0 551.2,602.0 551.8,600.3 552.5,599.3 553.1,597.8 553.8,597.0 554.5,596.1 555.2,594.9 556.2,593.7 557.2,593.2 558.2,592.5 559.2,592.0 560.3,591.2 561.5,590.4 562.7,590.0 564.0,589.0 564.9,588.1 565.8,587.2 566.7,586.4 567.7,585.4 568.7,584.6 569.7,583.2 570.7,582.3 571.8,581.3 572.9,580.4 574.1,579.5 575.3,578.7 576.5,578.1 577.6,577.6 578.7,576.9 579.8,576.3 580.9,576.0 582.1,575.7 583.3,575.1 584.5,574.7 585.7,574.2 587.0,574.2 588.3,574.2 589.7,573.7 591.1,573.0 592.5,572.6 594.0,572.3 595.1,571.9 596.2,572.1 597.3,571.4 598.3,571.1 599.4,570.6 600.5,570.7 601.6,570.6 602.7,570.1 603.9,569.5 605.1,569.4 606.3,569.2 607.6,569.2 609.0,568.4 610.4,567.9 612.0,567.5 613.6,567.1 615.3,566.7 617.1,566.6 619.0,566.3 620.0,565.8 621.0,565.5 622.0,565.2 623.1,564.9 624.2,565.0 625.3,564.6 626.5,564.4 627.6,564.4 628.8,564.0 630.0,563.5 631.3,563.6 632.5,563.5 633.8,562.9 635.1,562.6 636.4,562.6 637.7,562.1 639.1,561.5 640.4,560.9 641.8,561.1 643.1,560.9 644.5,560.4 645.9,560.1 647.2,559.7 648.6,559.2 650.0,559.3 651.4,559.0 652.8,558.4 654.2,557.8 655.6,557.6 656.9,557.3 658.3,557.3 659.7,557.1 661.1,556.8 662.4,556.2 663.8,555.7 665.1,555.5 666.4,555.2 667.7,555.3 669.0,555.1 670.3,554.9 671.6,554.9 672.9,554.3 674.3,554.0 675.6,553.5 677.0,553.5 678.4,552.9 679.7,553.0 681.1,552.9 682.5,552.8 683.9,552.0 685.3,551.7 686.7,551.7 688.1,551.1 689.6,550.9 691.0,550.7 692.3,550.9 693.7,550.6 695.1,550.5 696.5,549.9 697.9,549.9 699.2,549.5 700.6,549.5 701.9,548.8 703.2,548.9 704.5,548.4 705.8,548.3 707.0,548.1 708.2,547.6 709.4,547.8 710.6,547.4 711.8,547.1 712.9,546.7 714.0,546.6 715.1,546.6 716.1,546.7 717.1,546.4 718.1,546.5 719.0,546.0 721.1,545.8 723.0,545.6 724.7,545.9 726.3,545.9 727.7,545.8 729.0,545.3 730.2,545.3 731.3,545.5 732.3,545.3 733.4,545.5 734.4,545.5 735.4,545.1 736.5,545.7 737.6,545.7 738.7,545.3 740.0,545.3 741.4,544.9 742.8,544.6 744.2,544.5 745.7,544.0 747.2,543.7 748.7,543.4 750.1,543.3 751.6,542.8 753.1,542.3 754.5,542.2 755.8,541.8 757.1,541.9 758.3,541.5 759.4,541.3 760.5,540.8 761.4,540.9 763.6,539.9 765.0,539.3 766.0,538.9 766.8,539.1 767.8,539.3 769.1,539.1 770.5,539.2 771.9,539.8 773.1,540.2 774.2,540.4 775.2,541.1 776.0,541.9 776.6,543.1 777.1,545.3 777.3,546.0 777.4,547.6 777.6,548.6 777.7,549.8 777.8,551.1 777.9,552.6 778.1,554.1 778.2,555.3 778.3,556.6 778.4,558.2 778.5,559.5 778.6,560.7 778.7,562.2 778.7,563.9 778.8,565.3 778.9,566.7 779.0,568.1 779.0,569.1 779.1,570.6 779.2,572.1 779.3,573.7 779.4,574.9 779.4,576.3 779.5,577.7 779.6,579.2 779.7,580.5 779.8,581.4 779.9,581.9 780.5,585.1 781.2,586.4 782.0,586.7 783.8,585.7 785.6,586.0 785.8,586.6 786.0,587.9 786.2,589.5 786.3,590.8 786.4,592.4 786.6,594.1 786.7,595.4 786.8,597.3 786.9,598.7 787.1,599.7 787.3,600.9 787.5,602.4 787.8,604.2 788.0,605.9 788.3,607.2 788.5,608.8 788.7,609.8 789.0,610.7 789.2,611.2 791.0,611.2 791.2,610.0 791.5,609.4 791.7,608.2 792.0,606.8 792.2,605.3 792.4,603.5 792.6,602.0 792.8,600.3 792.9,599.2 792.9,597.9 793.0,596.2 793.0,595.1 793.1,593.4 793.1,592.2 793.1,590.4 793.2,589.0 793.2,587.7 793.2,585.8 793.3,584.5 793.3,582.8 793.3,581.2 793.4,580.0 793.4,579.5 793.5,578.8 793.7,576.5 793.9,574.4 794.1,573.1 794.3,572.0 794.6,570.9 794.9,570.0 796.1,568.2 797.8,567.5 798.7,567.8 799.7,568.6 800.8,569.4 801.9,570.8 802.7,572.6 803.0,573.4 803.3,574.6 803.5,575.8 803.7,577.3 803.9,578.6 804.1,580.2 804.2,581.3 804.4,582.9 804.6,584.0 804.9,585.8 805.2,587.2 805.5,588.6 805.9,590.1 806.3,591.8 806.6,593.4 807.0,594.8 807.4,596.0 807.8,596.7 808.2,597.5 809.0,597.7 809.8,597.2 810.6,595.7 811.4,593.7 812.0,591.4 812.2,590.7 812.3,589.5 812.4,588.3 812.6,586.9 812.7,585.8 812.8,584.1 812.8,582.3 812.9,581.1 813.0,579.9 813.1,578.4 813.1,576.8 813.2,575.5 813.3,573.8 813.3,572.6 813.4,571.0 813.5,569.3 813.6,568.0 813.6,566.6 813.7,565.2 813.7,563.6 813.7,562.6 813.8,561.4 813.9,560.0 813.9,558.8 814.1,557.8 814.2,556.7 814.5,554.7 814.9,553.9 815.4,553.1 816.0,552.0 817.0,551.0 817.9,549.9 818.9,549.3 820.1,548.1 821.3,547.5 822.7,546.7 824.1,546.1 825.6,544.8 826.6,544.5 827.6,543.6 828.6,543.1 829.7,542.9 830.8,541.6 832.0,540.9 833.2,540.2 834.7,539.6 836.2,538.6 838.0,538.8 839.0,538.8 840.0,538.1 841.0,537.4 842.2,537.1 843.3,536.0 844.5,535.1 845.7,535.6 847.0,534.8 848.3,534.4 849.6,534.6 850.9,534.5 852.2,533.6 853.6,532.5 854.9,531.8 856.3,532.1 857.6,532.0 859.0,530.8 860.3,530.9 861.7,530.1 863.0,529.7 864.3,529.0 865.6,529.5 866.9,529.8 868.3,528.9 869.7,528.9 871.1,528.2 872.5,528.7 873.9,527.8 875.3,527.4 876.7,527.9 878.2,527.6 879.5,528.2 880.9,528.4 882.3,528.3 883.6,527.3 884.8,527.5 886.1,527.9 887.3,527.3 888.4,526.4 889.5,525.9 890.5,525.7 892.1,525.6 893.6,524.6 894.8,523.6 896.0,522.7 897.1,522.5 898.1,522.1 899.0,520.9 900.0,520.3 901.0,520.0 902.0,519.1 903.1,517.9 904.2,517.2 905.5,517.5 906.8,517.2 908.0,516.4 909.3,516.5 910.7,515.7 912.0,516.4 913.3,516.1 914.7,516.0 916.1,515.9 917.5,515.1 919.0,515.4 920.5,515.1 921.7,514.8 923.1,515.4 924.4,514.7 925.9,514.6 927.3,515.2 928.8,514.7 930.2,514.5 931.7,514.8 933.1,514.4 934.5,515.1 935.9,515.6 937.2,514.6 938.4,514.5 939.5,514.8 940.5,514.5 942.7,514.7 944.4,513.9 945.8,512.7 947.0,512.4 948.1,512.5 949.2,512.4 950.3,513.4 951.1,514.9 951.8,516.1 952.4,517.5 953.2,519.4 954.2,520.6 955.3,521.1 956.6,522.2 957.9,522.0 959.3,522.9 960.7,522.9 961.9,524.0 963.0,524.6 963.7,525.7 964.3,527.4 964.9,529.0 965.4,530.6 965.9,531.3 966.4,532.7 966.9,533.7 967.4,535.1 968.0,536.2 969.0,536.6 970.0,537.7 971.1,538.6 972.2,539.2 973.3,540.5 974.2,541.1 974.7,541.6 975.1,542.3 975.6,544.0 976.0,545.5 976.5,547.0 976.9,548.3 977.3,550.4 977.7,551.2 978.1,553.4 978.5,554.7 978.8,555.8 979.0,557.2 979.2,557.4 979.2,559.5 979.4,560.2 979.7,560.8 979.9,562.0 980.2,563.7 980.5,565.1 980.8,566.1 981.2,567.8 981.6,568.7 981.9,570.9 982.3,571.9 982.7,573.3 983.1,574.6 983.5,576.7 983.9,578.7 984.2,580.4 984.6,581.0 984.9,582.3 985.2,583.5 985.5,584.4 985.9,586.9 986.2,587.7 986.5,589.4 986.8,591.3 987.1,593.2 987.4,593.7 987.7,595.0 987.9,596.7 988.2,597.2 988.4,598.3 988.7,600.3 989.0,600.9 989.2,602.1 989.6,603.6 990.0,605.4 990.3,606.6 990.6,608.0 991.0,610.7 991.3,612.5 991.7,614.0 992.1,614.5 992.5,615.2 993.0,616.1 994.1,616.6 995.4,616.8 996.8,617.0 998.1,615.4 999.2,613.6 999.7,613.5 1000.0,612.1 1000.4,610.7 1000.7,609.6 1001.0,608.4 1001.3,606.9 1001.6,605.4 1001.8,604.1 1002.1,602.6 1002.4,601.0 1002.7,599.4 1003.0,597.6 1003.2,596.4 1003.4,595.3 1003.6,594.0 1003.8,592.8 1004.1,591.2 1004.3,589.8 1004.5,588.3 1004.7,587.0 1004.9,585.5 1005.1,584.0 1005.3,582.5 1005.6,581.2 1005.8,579.8 1005.9,578.5 1006.1,577.4 1006.3,576.1 1006.5,575.0 1006.6,573.6 1006.8,572.5 1006.9,570.6 1007.1,569.2 1007.1,567.8 1007.2,566.4 1007.2,565.0 1007.2,563.8 1007.3,562.7 1007.4,561.5 1007.5,560.5 1007.7,559.1 1008.0,557.5 1008.3,556.3 1008.6,555.0 1009.0,554.1 1009.4,552.7 1009.9,551.6 1010.4,550.3 1010.8,549.1 1011.4,547.4 1011.9,546.1 1012.4,544.7 1012.9,543.3 1013.5,542.3 1014.0,541.0 1014.5,539.9 1015.0,538.7 1015.5,537.3 1016.1,536.0 1016.7,534.5 1017.3,533.1 1018.0,531.9 1018.6,530.8 1019.2,529.5 1019.8,528.4 1020.4,527.3 1021.0,526.2 1021.7,524.8 1022.3,523.8 1023.0,522.4 1023.6,521.4 1024.2,520.1 1024.9,518.6 1025.6,517.0 1026.3,515.6 1027.0,514.3 1027.6,512.8 1028.3,511.5 1029.0,510.4 1029.6,509.1 1030.2,508.0 1030.8,507.1 1031.3,506.5 1031.8,506.0 1032.5,505.5 1033.1,505.7 1033.6,506.3 1034.0,507.5 1034.3,509.4 1034.6,511.7 1035.0,515.1 1035.1,516.1 1035.2,516.8 1035.2,518.0 1035.3,519.2 1035.4,520.7 1035.5,522.1 1035.5,523.3 1035.6,524.9 1035.7,526.3 1035.7,527.9 1035.8,529.6 1035.8,531.2 1035.9,533.0 1036.0,534.8 1036.0,536.6 1036.1,538.3 1036.2,540.0 1036.2,541.8 1036.3,543.6 1036.3,545.2 1036.4,547.0 1036.5,548.4 1036.5,549.8 1036.6,551.3 1036.6,552.7 1036.7,553.9 1036.8,555.2 1036.8,556.4 1036.9,557.4 1037.0,558.3 1037.0,558.7 1037.1,559.3 1037.2,559.6 1037.2,559.8 1037.3,559.9 1037.4,559.6 1037.5,559.3 1037.6,558.8 1037.7,558.0 1037.8,557.0 1037.9,555.8 1038.0,554.5 1038.1,553.1 1038.2,551.9 1038.3,550.3 1038.4,548.5 1038.5,546.9 1038.6,544.9 1038.7,543.2 1038.8,541.4 1038.9,539.8 1039.0,537.8 1039.1,536.1 1039.2,534.5 1039.3,532.9 1039.4,531.2 1039.5,529.7 1039.7,528.3 1039.8,527.0 1039.9,525.8 1040.0,525.1 1040.4,522.5 1040.8,520.0 1041.3,518.1 1041.7,516.2 1042.2,514.9 1042.6,514.4 1043.1,514.3 1043.5,514.9 1043.7,515.6 1043.8,516.2 1044.0,517.0 1044.1,518.1 1044.3,519.5 1044.4,520.8 1044.6,522.2 1044.7,523.9 1044.9,525.5 1045.0,527.2 1045.2,528.9 1045.3,530.7 1045.5,532.3 1045.7,533.9 1045.9,535.4 1046.1,536.9 1046.3,538.3 1046.5,539.2 1046.8,540.0 1047.6,542.2 1048.7,543.2 1049.8,543.9 1050.9,544.4 1052.0,545.1 1053.0,546.5 1053.5,547.6 1054.0,548.6 1054.5,550.1 1055.0,551.6 1055.4,553.2 1055.9,554.7 1056.3,556.1 1056.8,557.6 1057.2,558.7 1057.6,559.4 1058.0,559.9 1058.7,559.8 1059.4,558.8 1060.0,557.3 1060.6,555.4 1061.2,553.6 1061.8,552.2 1062.6,550.3 1063.4,548.5 1064.2,547.1 1065.0,547.4 1065.3,548.1 1065.6,548.9 1065.8,549.8 1066.1,551.2 1066.4,552.7 1066.7,554.0 1067.0,555.5 1067.2,557.3 1067.5,559.1 1067.7,560.8 1068.0,562.6 1068.2,563.6 1068.3,564.8 1068.5,565.9 1068.6,567.1 1068.7,568.4 1068.9,569.8 1069.0,571.1 1069.1,572.4 1069.3,573.6 1069.4,575.0 1069.5,576.4 1069.7,577.9 1069.8,579.3 1070.0,580.5 1070.2,582.0 1070.3,583.5 1070.5,584.9 1070.6,586.0 1070.8,587.2 1071.0,588.7 1071.1,590.3 1071.3,591.9 1071.5,593.2 1071.6,594.7 1071.8,596.2 1072.0,597.8 1072.2,599.3 1072.4,601.0 1072.6,602.6 1072.7,603.7 1072.9,605.2 1073.1,606.4 1073.3,607.6 1073.5,608.8 1073.6,610.2 1073.8,611.4 1074.0,612.1 1074.1,612.9 1074.2,613.5 1076.8,613.6 1076.9,612.9 1077.1,611.9 1077.2,610.8 1077.4,609.7 1077.5,608.4 1077.7,606.8 1077.8,605.2 1078.0,603.7 1078.2,602.2 1078.3,600.7 1078.5,599.0 1078.6,597.6 1078.8,596.1 1078.9,594.9 1079.1,593.5 1079.2,592.3 1079.6,590.3 1079.9,589.0 1080.3,587.5 1080.6,586.4 1080.9,585.3 1081.3,584.5 1081.8,583.5 1082.6,582.6 1083.6,582.0 1084.6,581.5 1085.5,579.9 1085.8,578.9 1086.0,577.8 1086.3,576.5 1086.5,575.0 1086.7,573.4 1086.9,571.8 1087.1,570.5 1087.4,568.9 1087.6,567.4 1087.8,566.0 1088.0,564.9 1088.3,563.4 1088.6,561.6 1088.9,560.2 1089.3,558.7 1089.6,557.3 1090.0,556.2 1090.5,555.0 1091.3,553.6 1092.3,552.9 1093.4,552.2 1094.5,551.4 1095.5,549.9 1096.0,549.1 1096.6,548.0 1097.1,546.8 1097.6,545.2 1098.1,543.8 1098.6,542.4 1099.2,540.9 1099.8,539.5 1100.5,538.5 1101.6,537.4 1102.8,536.7 1104.0,536.3 1105.3,536.1 1106.6,535.5 1108.0,535.0 1109.2,533.9 1110.6,532.8 1111.9,532.0 1113.3,530.7 1114.6,529.9 1115.8,529.5 1116.8,529.7 1117.4,530.2 1118.0,531.1 1118.5,532.5 1118.9,534.1 1119.2,535.7 1119.6,537.4 1120.0,538.7 1120.5,540.2 1121.1,541.4 1121.8,542.8 1122.6,544.0 1123.3,545.4 1124.0,546.4 1124.8,547.6 1125.5,548.6 1126.3,549.8 1127.2,550.8 1128.0,551.9 1128.8,552.9 1129.7,553.9 1130.5,555.1 1131.2,556.3 1132.0,557.9 1132.7,559.9 1133.4,561.4 1134.2,562.6 1134.9,563.5 1135.5,563.8 1135.9,563.1 1136.3,562.4 1136.7,561.1 1137.1,559.7 1137.5,557.8 1137.8,555.9 1138.2,554.1 1138.6,552.5 1138.9,551.1 1139.2,549.7 1139.8,548.0 1140.2,546.3 1140.6,544.7 1141.1,543.5 1141.7,542.9 1142.5,542.5 1143.2,542.9 1144.1,543.3 1145.0,544.1 1146.0,544.9 1147.0,546.3 1148.0,547.4 1149.0,548.9 1149.8,550.0 1150.5,551.2 1151.0,552.5 1151.4,553.5 1151.8,554.7 1152.1,556.1 1152.4,557.6 1152.6,558.8 1152.9,560.1 1153.1,561.6 1153.3,563.5 1153.5,564.9 1153.6,566.1 1153.8,567.2 1153.9,568.5 1154.0,569.6 1154.1,570.9 1154.2,572.3 1154.2,573.6 1154.3,574.9 1154.4,576.2 1154.5,577.5 1154.6,578.8 1154.7,580.4 1154.8,582.0 1154.9,583.4 1155.0,585.1 1155.1,586.2 1155.2,587.5 1155.3,588.8 1155.4,590.4 1155.5,592.1 1155.6,593.8 1155.7,595.3 1155.8,597.2 1156.0,598.9 1156.1,600.7 1156.2,602.5 1156.3,604.3 1156.4,605.6 1156.6,607.1 1156.7,608.7 1156.8,610.0 1156.9,611.0 1157.0,612.0 1157.2,612.9 1157.3,613.4 1157.4,613.8 1157.5,613.7 1157.6,613.8 1157.7,613.3 1157.8,612.6 1157.9,612.0 1158.0,611.0 1158.1,610.0 1158.2,608.7 1158.3,607.3 1158.5,605.7 1158.6,604.2 1158.7,602.2 1158.8,600.7 1158.9,599.0 1159.0,597.0 1159.1,595.4 1159.2,593.6 1159.3,592.0 1159.4,590.5 1159.5,588.8 1159.6,587.3 1159.7,586.1 1159.8,584.8 1159.9,583.2 1160.1,581.7 1160.2,580.0 1160.3,578.3 1160.5,577.0 1160.6,575.7 1160.7,574.4 1160.9,573.0 1161.0,571.9 1161.2,570.8 1161.3,569.5 1161.5,568.4 1161.8,567.3 1162.4,565.1 1163.1,563.5 1163.9,562.5 1164.7,561.8 1165.5,561.2 1166.5,561.8 1167.5,563.7 1168.4,565.4 1169.2,565.1 1169.5,564.5 1169.7,563.3 1169.9,562.3 1170.1,560.7 1170.3,559.3 1170.5,557.8 1170.7,556.1 1170.8,554.3 1171.0,552.7 1171.2,551.1 1171.4,549.5 1171.6,548.3 1171.8,547.3 1172.4,545.0 1173.0,543.3 1173.6,542.6 1174.2,542.6 1174.8,542.9 1175.3,543.8 1175.9,545.3 1176.4,546.8 1177.0,548.3 1177.5,549.8 1177.9,551.2 1178.3,552.3 1178.6,553.3 1179.0,554.4 1179.3,556.1 1179.6,557.9 1180.0,560.2 1180.1,561.0 1180.3,561.9 1180.4,563.0 1180.5,564.0 1180.6,565.3 1180.8,566.5 1180.9,567.9 1181.0,569.1 1181.2,570.4 1181.3,571.8 1181.4,573.4 1181.5,574.6 1181.7,576.1 1181.8,577.5 1181.9,579.0 1182.1,580.4 1182.2,582.1 1182.4,583.5 1182.5,585.1 1182.6,586.3 1182.7,587.5 1182.8,588.9 1182.9,590.1 1183.1,591.6 1183.2,593.0 1183.3,594.3 1183.4,595.6 1183.5,597.1 1183.6,598.6 1183.7,600.1 1183.9,601.8 1184.0,603.1 1184.1,604.7 1184.2,606.1 1184.3,607.4 1184.5,608.7 1184.6,609.9 1184.7,611.4 1184.8,612.5 1185.0,613.6 1185.1,614.7 1185.2,615.8 1185.4,616.9 1185.5,617.6 1186.2,620.7 1187.0,622.4 1187.8,623.5 1188.5,623.6 1189.2,623.6 1189.9,623.5 1190.6,623.1 1191.2,622.0 1191.9,620.1 1192.5,617.7 1192.7,616.9 1192.8,615.6 1193.0,614.5 1193.2,613.3 1193.3,612.0 1193.5,610.6 1193.6,609.1 1193.8,607.8 1194.0,606.3 1194.1,605.0 1194.3,603.6 1194.4,602.2 1194.6,600.5 1194.8,599.1 1194.9,597.6 1195.1,596.3 1195.2,595.1 1195.4,593.6 1195.5,592.5 1195.7,590.7 1196.0,589.2 1196.2,587.6 1196.4,586.5 1196.6,585.0 1196.8,583.7 1197.0,582.3 1197.2,581.2 1197.5,580.1 1197.7,578.7 1198.0,577.3 1198.3,576.0 1198.6,574.7 1198.9,573.3 1199.2,571.7 1199.6,570.4 1199.9,569.0 1200.3,567.6 1200.7,566.0 1201.1,564.7 1201.5,563.4 1202.0,562.5 1202.8,561.1 1203.6,559.7 1204.5,558.0 1205.5,556.8 1206.4,555.9 1207.3,555.3 1208.2,554.8 1209.3,555.2 1210.4,555.7 1211.5,556.8 1212.5,557.9 1213.6,559.5 1214.5,561.1 1215.0,562.0 1215.4,563.5 1215.9,564.9 1216.3,566.7 1216.7,568.2 1217.1,569.8 1217.5,571.2 1217.9,572.5 1218.3,573.7 1218.6,574.6 1219.0,575.0 1219.5,575.0 1220.0,574.2 1220.4,573.2 1220.8,571.6 1221.2,570.2 1221.7,568.4 1222.1,566.6 1222.5,565.1 1222.8,563.9 1223.2,562.6 1223.5,561.0 1223.8,559.2 1224.1,557.6 1224.4,556.3 1224.7,555.0 1225.0,553.6 1225.4,552.2 1225.8,551.2 1226.5,549.7 1227.4,548.9 1228.2,548.4 1229.1,547.9 1230.0,546.3 1230.4,545.5 1230.7,544.1 1231.0,542.8 1231.4,541.3 1231.7,539.9 1232.0,538.3 1232.4,537.1 1232.8,535.5 1233.2,534.0 1233.6,532.7 1234.0,531.4 1234.5,530.3 1235.1,528.9 1235.7,527.4 1236.3,526.2 1237.0,524.8 1237.7,523.4 1238.4,522.3 1239.1,521.0 1239.9,519.9 1240.6,519.0 1241.3,518.1 1242.0,517.4 1243.5,516.3 1245.1,515.8 1246.7,515.5 1248.2,515.9 1249.5,516.1 1250.5,516.8 1251.3,517.8 1252.1,518.9 1252.8,520.1 1253.6,521.2 1254.5,522.3 1255.5,523.3 1256.6,524.4 1257.7,525.3 1258.8,526.4 1259.8,527.0 1260.8,527.3 1262.2,527.8 1263.3,527.7 1264.5,526.1 1264.9,525.4 1265.3,524.4 1265.8,523.0 1266.2,521.5 1266.6,520.0 1267.0,518.4 1267.5,517.1 1267.9,516.0 1268.2,514.9 1269.3,513.0 1270.4,512.0 1271.5,512.1 1272.2,512.2 1272.9,512.6 1273.6,513.3 1274.3,514.5 1275.1,516.4 1275.8,518.7 1275.9,519.8 1276.1,520.6 1276.3,521.6 1276.5,522.8 1276.7,523.9 1276.9,525.4 1277.1,526.8 1277.3,528.1 1277.5,529.4 1277.7,531.0 1277.8,532.5 1278.0,534.0 1278.2,535.2 1278.4,536.8 1278.6,538.1 1278.8,539.6 1278.9,541.1 1279.1,542.6 1279.3,543.9 1279.5,544.9 1279.7,546.6 1279.9,548.1 1280.2,549.5 1280.4,550.7 1280.6,552.3 1280.8,553.7 1281.0,555.2 1281.2,556.8 1281.5,558.3 1281.7,559.3 1281.9,560.7 1282.1,561.9 1282.3,563.3 1282.6,564.3 1282.8,565.4 1283.0,566.5 1283.2,567.3 1283.8,569.3 1284.3,571.4 1284.8,572.9 1285.3,574.3 1285.9,575.8 1286.4,576.8 1287.0,577.3 1287.5,577.4 1288.0,577.1 1288.6,576.5 1289.1,575.8 1289.7,574.6 1290.3,573.3 1290.8,571.3 1291.4,569.4 1292.0,567.5 1292.3,566.6 1292.6,565.2 1292.9,564.1 1293.2,562.7 1293.5,561.1 1293.8,559.6 1294.1,558.1 1294.4,556.6 1294.7,555.3 1295.0,553.6 1295.3,552.2 1295.6,550.7 1295.9,549.4 1296.2,547.9 1296.5,546.9 1296.7,545.7 1297.0,545.0 1298.0,542.5 1298.8,541.6 1299.7,541.3 1300.8,541.1 1302.2,541.3 1304.0,542.0 1305.7,542.2 1307.0,541.2 1307.3,540.6 1307.6,539.4 1307.7,538.1 1307.9,536.7 1308.0,535.3 1308.1,533.5 1308.2,531.9 1308.3,530.2 1308.4,528.6 1308.6,527.3 1308.8,526.1 1309.0,524.9 1309.7,522.9 1310.5,521.8 1311.4,520.7 1312.3,520.1 1313.2,519.5 1314.9,519.0 1316.7,519.1 1318.2,520.2 1318.9,521.1 1319.5,522.1 1320.0,523.3 1320.5,524.6 1321.0,526.2 1321.5,527.4 1321.9,528.7 1322.3,530.6 1322.6,532.1 1322.9,533.9 1323.3,535.3 1323.6,536.1 1324.0,536.2 1324.3,535.6 1324.6,534.8 1324.9,533.5 1325.2,531.9 1325.5,529.8 1325.8,528.1 1326.2,526.3 1326.6,524.7 1327.0,523.7 1328.1,522.1 1329.4,521.0 1330.7,520.5 1332.0,520.0 1333.7,519.5 1335.4,519.2 1337.0,519.7 1337.7,520.3 1338.4,521.5 1339.0,522.7 1339.6,524.0 1340.2,525.8 1340.8,527.7 1341.1,528.7 1341.4,530.1 1341.7,531.6 1342.0,533.5 1342.3,535.3 1342.6,537.1 1342.9,538.7 1343.1,540.0 1343.4,541.3 1343.7,542.0 1344.0,542.3 1344.3,542.1 1344.6,541.4 1344.9,540.3 1345.1,538.6 1345.4,537.0 1345.7,535.3 1346.0,533.3 1346.3,531.6 1346.6,530.1 1347.0,528.8 1347.9,527.0 1348.9,525.6 1349.9,524.3 1351.0,523.3 1352.0,522.8 1353.0,523.4 1353.9,524.1 1354.9,525.4 1355.9,526.9 1357.0,528.7 1357.5,529.6 1358.1,530.8 1358.6,532.0 1359.2,533.1 1359.8,534.3 1360.3,535.5 1360.9,536.8 1361.5,538.4 1362.1,539.6 1362.7,541.2 1363.2,542.6 1363.7,543.6 1364.2,545.1 1364.7,546.2 1365.3,547.7 1365.8,549.0 1366.3,550.8 1366.8,552.1 1367.3,553.7 1367.8,554.8 1368.3,556.2 1368.7,557.2 1369.0,558.1 1369.3,559.2 1369.5,560.1 1368.2,560.1 1368.5,560.9 1368.9,561.9 1369.3,562.8 1369.9,563.8 1370.4,565.1 1371.0,566.4 1371.6,567.9 1372.2,569.4 1372.8,570.9 1373.2,572.3 1373.6,573.7 1373.9,575.0 1374.1,576.4 1374.4,577.7 1374.7,579.3 1374.9,580.9 1375.2,582.6 1375.4,584.0 1375.7,585.2 1376.0,586.5 1376.3,587.7 1376.6,589.0 1377.0,590.2 1377.9,591.9 1378.9,593.1 1380.0,594.0 1381.1,594.6 1382.2,595.5 1383.2,596.3 1384.0,597.2 1384.7,598.4 1385.4,599.6 1386.1,600.9 1386.8,602.1 1387.5,603.5 1388.2,604.3 1388.9,605.4 1389.5,606.4 1390.8,607.7 1391.9,608.6 1393.1,609.6 1394.5,610.2 1395.9,610.0 1397.4,609.7 1399.1,609.7 1400.6,609.3 1402.0,608.8 1403.5,607.8 1404.8,606.6 1405.9,605.6 1407.0,604.9 1407.9,605.2 1408.6,606.5 1409.3,608.2 1410.0,610.2 1410.3,611.2 1410.7,612.6 1411.0,614.2 1411.4,615.8 1411.8,617.7 1412.1,619.2 1412.5,620.7 1412.9,621.8 1413.2,622.4 1414.1,622.5 1414.9,621.2 1415.9,619.1 1417.0,617.6 1417.9,616.4 1419.0,615.0 1420.1,613.7 1421.3,612.6 1422.3,611.8 1423.2,611.2 1424.7,611.5 1425.8,612.9 1427.0,613.6 1428.1,613.1 1429.1,611.9 1430.8,612.1 1431.5,612.4 1432.5,613.2 1433.5,614.2 1434.6,615.4 1435.7,616.7 1436.8,617.9 1437.8,619.0 1438.7,619.7 1439.5,619.9 1440.8,620.0 1441.8,619.0 1442.6,617.6 1443.2,616.1 1443.8,615.0 1444.2,613.2 1444.5,611.3 1444.8,610.0 1445.0,608.8"/>
</g>
<g stroke="#d2d2d2" stroke-dasharray="19 16.3">
<line x1="497.00" y1="722.00" x2="497.00" y2="118.00" stroke-width="4"/>
<line x1="543.00" y1="717.00" x2="543.00" y2="98.00" stroke-width="4"/>
<line x1="994.50" y1="729.50" x2="994.50" y2="127.00" stroke-width="5"/>
<line x1="1060.50" y1="609.50" x2="1060.50" y2="132.50" stroke-width="5"/>
<line x1="1090.00" y1="533.75" x2="1090.00" y2="92.00" stroke-width="4"/>
<line x1="1310.50" y1="581.25" x2="1310.50" y2="139.00" stroke-width="5"/>
<line x1="1342.50" y1="604.50" x2="1342.50" y2="163.00" stroke-width="5"/>
</g>
<g stroke="#000" stroke-linecap="square"><line x1="117.5" y1="14.5" x2="117.5" y2="884" stroke-width="5"/><line x1="1447.5" y1="14.5" x2="1447.5" y2="884" stroke-width="5"/><line x1="117.5" y1="14.5" x2="1447.5" y2="14.5" stroke-width="5"/><line x1="117.5" y1="884" x2="1447.5" y2="884" stroke-width="4"/></g>
<g stroke="#000">
<line x1="117.5" y1="884" x2="117.5" y2="904" stroke-width="5"/>
<line x1="210.0" y1="884" x2="210.0" y2="894" stroke-width="4"/>
<line x1="302.5" y1="884" x2="302.5" y2="904" stroke-width="5"/>
<line x1="395.0" y1="884" x2="395.0" y2="894" stroke-width="4"/>
<line x1="486.5" y1="884" x2="486.5" y2="904" stroke-width="5"/>
<line x1="579.0" y1="884" x2="579.0" y2="894" stroke-width="4"/>
<line x1="671.5" y1="884" x2="671.5" y2="904" stroke-width="5"/>
<line x1="764.0" y1="884" x2="764.0" y2="894" stroke-width="4"/>
<line x1="856.5" y1="884" x2="856.5" y2="904" stroke-width="5"/>
<line x1="949.0" y1="884" x2="949.0" y2="894" stroke-width="4"/>
<line x1="1041.5" y1="884" x2="1041.5" y2="904" stroke-width="5"/>
<line x1="1133.0" y1="884" x2="1133.0" y2="894" stroke-width="4"/>
<line x1="1225.5" y1="884" x2="1225.5" y2="904" stroke-width="5"/>
<line x1="1318.0" y1="884" x2="1318.0" y2="894" stroke-width="4"/>
<line x1="1410.5" y1="884" x2="1410.5" y2="904" stroke-width="5"/>
</g>
<line transform="scale(1.30,1)" x1="710.00" y1="323.0" x2="760.46" y2="308.1" stroke="#000" stroke-width="3.8"/><polygon points="1021.8,300.5 988.5,316.8 984.8,300.2" fill="#000"/>
<line transform="scale(1.30,1)" x1="331.73" y1="518.8" x2="363.57" y2="493.0" stroke="#000" stroke-width="3.8"/><polygon points="501.5,475.0 475.4,501.2 466.4,486.8" fill="#000"/>
<line transform="scale(1.30,1)" x1="478.08" y1="444.5" x2="435.29" y2="479.1" stroke="#000" stroke-width="3.8"/><polygon points="537.0,497.0 563.1,470.8 572.1,485.2" fill="#000"/>
<line transform="scale(1.30,1)" x1="478.46" y1="516.2" x2="418.85" y2="529.7" stroke="#000" stroke-width="3.8"/><polygon points="511.0,535.5 545.0,521.0 547.9,537.7" fill="#000"/>
<line transform="scale(1.30,1)" x1="555.38" y1="715.5" x2="593.83" y2="634.0" stroke="#000" stroke-width="3.8"/><polygon points="789.8,605.0 778.2,640.1 763.7,631.2" fill="#000"/>
<line transform="scale(1.30,1)" x1="605.96" y1="653.8" x2="613.21" y2="627.1" stroke="#000" stroke-width="3.8"/><polygon points="808.5,595.0 804.5,631.8 788.5,626.1" fill="#000"/>
<g font-family="'Liberation Serif', 'Times New Roman', serif" fill="#000">
<g font-size="64" text-anchor="middle">
<text x="117.5" y="966.7">4000</text>
<text x="302.2" y="966.7">3500</text>
<text x="486.9" y="966.7">3000</text>
<text x="671.6" y="966.7">2500</text>
<text x="856.4" y="966.7">2000</text>
<text x="1041.1" y="966.7">1500</text>
<text x="1225.8" y="966.7">1000</text>
<text x="1410.5" y="966.7">500</text>
</g>
<g font-size="54">
<text x="148.5" y="91.6">a</text>
<text x="140.5" y="296.3">b</text>
<text x="140.5" y="495.7">c</text>
<text x="936.5" y="92.8">1620</text>
<text x="1063.0" y="70.0">1378</text>
<text x="1007.7" y="129.8">1438</text>
<text x="1245.3" y="111.8">770</text>
<text x="811.9" y="336.7">1566</text>
<text x="624.3" y="455.5">2849</text>
<text x="628.0" y="527.2">2916</text>
<text x="377.3" y="558.3">2973</text>
<text x="751.8" y="713.6">2182</text>
<text x="660.8" y="766.7">2208</text>
<text x="1303.8" y="663.4">686</text>
</g>
<text class="nk" font-size="68.5" x="509.2" y="1084.2"><tspan textLength="59.2" lengthAdjust="spacingAndGlyphs">W</tspan><tspan x="571.2">avenumber (cm</tspan><tspan font-size="47" dy="-26.8" dx="-1">-1</tspan><tspan dy="26.8" dx="-0.7">)</tspan></text>
<text class="nk" font-size="67.8" transform="translate(68.7,722.3) rotate(-90)">Transmittance (a.u.)</text>
</g>
</svg>
</body></html>
